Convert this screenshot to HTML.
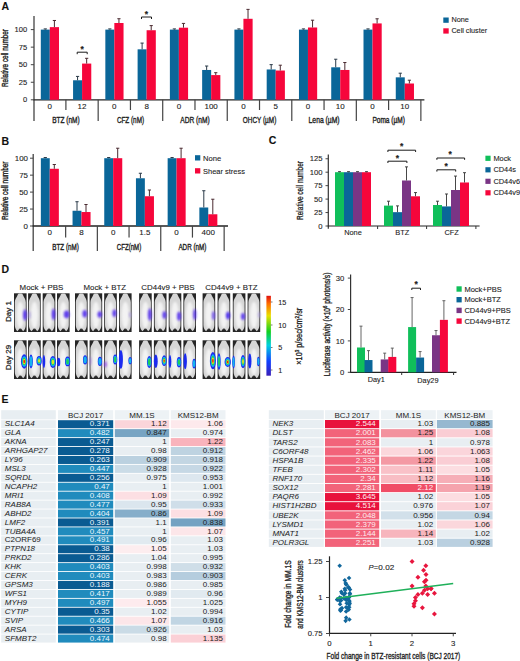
<!DOCTYPE html><html><head><meta charset="utf-8"><style>html,body{margin:0;padding:0;background:#fff;width:520px;height:661px;overflow:hidden}svg{display:block}text{font-family:"Liberation Sans",sans-serif}</style></head><body>
<svg width="520" height="661" viewBox="0 0 520 661">
<defs><filter id="bl" x="-30%" y="-30%" width="160%" height="160%"><feGaussianBlur stdDeviation="0.9"/></filter><filter id="bm" x="-30%" y="-10%" width="160%" height="120%"><feGaussianBlur stdDeviation="0.45"/></filter><filter id="bl3" x="-100%" y="-60%" width="300%" height="220%"><feGaussianBlur stdDeviation="0.9"/></filter><filter id="bl2" x="-80%" y="-50%" width="260%" height="200%"><feGaussianBlur stdDeviation="0.75"/></filter><linearGradient id="cbar" x1="0" y1="1" x2="0" y2="0"><stop offset="0" stop-color="#3a1fb8"/><stop offset="0.18" stop-color="#1040ff"/><stop offset="0.38" stop-color="#00d0e0"/><stop offset="0.55" stop-color="#10d020"/><stop offset="0.75" stop-color="#e8e000"/><stop offset="0.9" stop-color="#ff7000"/><stop offset="1" stop-color="#e01010"/></linearGradient></defs>
<rect x="0" y="0" width="520" height="661" fill="#fff"/>
<text x="1.5" y="10.25" font-size="10.5" font-weight="bold" fill="#111" stroke="#111" stroke-width="0.1">A</text>
<text x="1.5" y="144.65" font-size="10.5" font-weight="bold" fill="#111" stroke="#111" stroke-width="0.1">B</text>
<text x="268.8" y="143.95" font-size="10.5" font-weight="bold" fill="#111" stroke="#111" stroke-width="0.1">C</text>
<text x="1.5" y="272.65" font-size="10.5" font-weight="bold" fill="#111" stroke="#111" stroke-width="0.1">D</text>
<text x="1.5" y="402.65" font-size="10.5" font-weight="bold" fill="#111" stroke="#111" stroke-width="0.1">E</text>
<line x1="34" y1="16" x2="34" y2="121" stroke="#444" stroke-width="1.3"/>
<line x1="33.4" y1="99.8" x2="424.4" y2="99.8" stroke="#222" stroke-width="1.3"/>
<line x1="30.8" y1="99.8" x2="34" y2="99.8" stroke="#444" stroke-width="1"/>
<text x="27.2" y="102.35" font-size="6.9" text-anchor="end" textLength="4.2" lengthAdjust="spacingAndGlyphs" fill="#222" stroke="#222" stroke-width="0.1">0</text>
<line x1="30.8" y1="82.25" x2="34" y2="82.25" stroke="#444" stroke-width="1"/>
<text x="27.2" y="84.8" font-size="6.9" text-anchor="end" textLength="8.4" lengthAdjust="spacingAndGlyphs" fill="#222" stroke="#222" stroke-width="0.1">25</text>
<line x1="30.8" y1="64.7" x2="34" y2="64.7" stroke="#444" stroke-width="1"/>
<text x="27.2" y="67.25" font-size="6.9" text-anchor="end" textLength="8.4" lengthAdjust="spacingAndGlyphs" fill="#222" stroke="#222" stroke-width="0.1">50</text>
<line x1="30.8" y1="47.15" x2="34" y2="47.15" stroke="#444" stroke-width="1"/>
<text x="27.2" y="49.7" font-size="6.9" text-anchor="end" textLength="8.4" lengthAdjust="spacingAndGlyphs" fill="#222" stroke="#222" stroke-width="0.1">75</text>
<line x1="30.8" y1="29.6" x2="34" y2="29.6" stroke="#444" stroke-width="1"/>
<text x="27.2" y="32.15" font-size="6.9" text-anchor="end" textLength="12.6" lengthAdjust="spacingAndGlyphs" fill="#222" stroke="#222" stroke-width="0.1">100</text>
<g transform="translate(4.9 58) rotate(-90)">
<text x="0" y="3.19" font-size="9" text-anchor="middle" textLength="58" lengthAdjust="spacingAndGlyphs" fill="#222" stroke="#222" stroke-width="0.38">Relative cell number</text>
</g>
<rect x="40.8" y="29.6" width="9" height="70.2" fill="#0a6699"/>
<rect x="49.8" y="27.14" width="9.2" height="72.66" fill="#f6063b"/>
<line x1="45.3" y1="29.6" x2="45.3" y2="28.9" stroke="#2a3a48" stroke-width="1"/>
<line x1="43.7" y1="28.9" x2="46.9" y2="28.9" stroke="#2a3a48" stroke-width="1"/>
<line x1="54.4" y1="27.14" x2="54.4" y2="20.47" stroke="#4a2a30" stroke-width="1"/>
<line x1="52.8" y1="20.47" x2="56" y2="20.47" stroke="#4a2a30" stroke-width="1"/>
<rect x="73.07" y="80.28" width="9" height="19.52" fill="#0a6699"/>
<rect x="82.07" y="63.58" width="9.2" height="36.22" fill="#f6063b"/>
<line x1="77.57" y1="80.28" x2="77.57" y2="76.42" stroke="#2a3a48" stroke-width="1"/>
<line x1="75.97" y1="76.42" x2="79.17" y2="76.42" stroke="#2a3a48" stroke-width="1"/>
<line x1="86.67" y1="63.58" x2="86.67" y2="58.31" stroke="#4a2a30" stroke-width="1"/>
<line x1="85.07" y1="58.31" x2="88.27" y2="58.31" stroke="#4a2a30" stroke-width="1"/>
<rect x="105.34" y="29.6" width="9" height="70.2" fill="#0a6699"/>
<rect x="114.34" y="23" width="9.2" height="76.8" fill="#f6063b"/>
<line x1="109.84" y1="29.6" x2="109.84" y2="28.9" stroke="#2a3a48" stroke-width="1"/>
<line x1="108.24" y1="28.9" x2="111.44" y2="28.9" stroke="#2a3a48" stroke-width="1"/>
<line x1="118.94" y1="23" x2="118.94" y2="18.72" stroke="#4a2a30" stroke-width="1"/>
<line x1="117.34" y1="18.72" x2="120.54" y2="18.72" stroke="#4a2a30" stroke-width="1"/>
<rect x="137.61" y="49.33" width="9" height="50.47" fill="#0a6699"/>
<rect x="146.61" y="30.23" width="9.2" height="69.57" fill="#f6063b"/>
<line x1="142.11" y1="49.33" x2="142.11" y2="43.08" stroke="#2a3a48" stroke-width="1"/>
<line x1="140.51" y1="43.08" x2="143.71" y2="43.08" stroke="#2a3a48" stroke-width="1"/>
<line x1="151.21" y1="30.23" x2="151.21" y2="25.6" stroke="#4a2a30" stroke-width="1"/>
<line x1="149.61" y1="25.6" x2="152.81" y2="25.6" stroke="#4a2a30" stroke-width="1"/>
<rect x="169.88" y="29.6" width="9" height="70.2" fill="#0a6699"/>
<rect x="178.88" y="27.7" width="9.2" height="72.1" fill="#f6063b"/>
<line x1="174.38" y1="29.6" x2="174.38" y2="28.9" stroke="#2a3a48" stroke-width="1"/>
<line x1="172.78" y1="28.9" x2="175.98" y2="28.9" stroke="#2a3a48" stroke-width="1"/>
<line x1="183.48" y1="27.7" x2="183.48" y2="23.42" stroke="#4a2a30" stroke-width="1"/>
<line x1="181.88" y1="23.42" x2="185.08" y2="23.42" stroke="#4a2a30" stroke-width="1"/>
<rect x="202.15" y="69.97" width="9" height="29.83" fill="#0a6699"/>
<rect x="211.15" y="75.09" width="9.2" height="24.71" fill="#f6063b"/>
<line x1="206.65" y1="69.97" x2="206.65" y2="66.03" stroke="#2a3a48" stroke-width="1"/>
<line x1="205.05" y1="66.03" x2="208.25" y2="66.03" stroke="#2a3a48" stroke-width="1"/>
<line x1="215.75" y1="75.09" x2="215.75" y2="72.7" stroke="#4a2a30" stroke-width="1"/>
<line x1="214.15" y1="72.7" x2="217.35" y2="72.7" stroke="#4a2a30" stroke-width="1"/>
<rect x="234.42" y="29.6" width="9" height="70.2" fill="#0a6699"/>
<rect x="243.42" y="18.79" width="9.2" height="81.01" fill="#f6063b"/>
<line x1="238.92" y1="29.6" x2="238.92" y2="28.9" stroke="#2a3a48" stroke-width="1"/>
<line x1="237.32" y1="28.9" x2="240.52" y2="28.9" stroke="#2a3a48" stroke-width="1"/>
<line x1="248.02" y1="18.79" x2="248.02" y2="9.38" stroke="#4a2a30" stroke-width="1"/>
<line x1="246.42" y1="9.38" x2="249.62" y2="9.38" stroke="#4a2a30" stroke-width="1"/>
<rect x="266.69" y="69.47" width="9" height="30.33" fill="#0a6699"/>
<rect x="275.69" y="70.53" width="9.2" height="29.27" fill="#f6063b"/>
<line x1="271.19" y1="69.47" x2="271.19" y2="64.63" stroke="#2a3a48" stroke-width="1"/>
<line x1="269.59" y1="64.63" x2="272.79" y2="64.63" stroke="#2a3a48" stroke-width="1"/>
<line x1="280.29" y1="70.53" x2="280.29" y2="65.19" stroke="#4a2a30" stroke-width="1"/>
<line x1="278.69" y1="65.19" x2="281.89" y2="65.19" stroke="#4a2a30" stroke-width="1"/>
<rect x="298.96" y="29.6" width="9" height="70.2" fill="#0a6699"/>
<rect x="307.96" y="27.49" width="9.2" height="72.31" fill="#f6063b"/>
<line x1="303.46" y1="29.6" x2="303.46" y2="28.9" stroke="#2a3a48" stroke-width="1"/>
<line x1="301.86" y1="28.9" x2="305.06" y2="28.9" stroke="#2a3a48" stroke-width="1"/>
<line x1="312.56" y1="27.49" x2="312.56" y2="20.19" stroke="#4a2a30" stroke-width="1"/>
<line x1="310.96" y1="20.19" x2="314.16" y2="20.19" stroke="#4a2a30" stroke-width="1"/>
<rect x="331.23" y="67.3" width="9" height="32.5" fill="#0a6699"/>
<rect x="340.23" y="69.97" width="9.2" height="29.83" fill="#f6063b"/>
<line x1="335.73" y1="67.3" x2="335.73" y2="59.22" stroke="#2a3a48" stroke-width="1"/>
<line x1="334.13" y1="59.22" x2="337.33" y2="59.22" stroke="#2a3a48" stroke-width="1"/>
<line x1="344.83" y1="69.97" x2="344.83" y2="62.52" stroke="#4a2a30" stroke-width="1"/>
<line x1="343.23" y1="62.52" x2="346.43" y2="62.52" stroke="#4a2a30" stroke-width="1"/>
<rect x="363.5" y="29.6" width="9" height="70.2" fill="#0a6699"/>
<rect x="372.5" y="23.42" width="9.2" height="76.38" fill="#f6063b"/>
<line x1="368" y1="29.6" x2="368" y2="28.9" stroke="#2a3a48" stroke-width="1"/>
<line x1="366.4" y1="28.9" x2="369.6" y2="28.9" stroke="#2a3a48" stroke-width="1"/>
<line x1="377.1" y1="23.42" x2="377.1" y2="18.79" stroke="#4a2a30" stroke-width="1"/>
<line x1="375.5" y1="18.79" x2="378.7" y2="18.79" stroke="#4a2a30" stroke-width="1"/>
<rect x="395.77" y="77.34" width="9" height="22.46" fill="#0a6699"/>
<rect x="404.77" y="83.51" width="9.2" height="16.29" fill="#f6063b"/>
<line x1="400.27" y1="77.34" x2="400.27" y2="73.19" stroke="#2a3a48" stroke-width="1"/>
<line x1="398.67" y1="73.19" x2="401.87" y2="73.19" stroke="#2a3a48" stroke-width="1"/>
<line x1="409.37" y1="83.51" x2="409.37" y2="80.21" stroke="#4a2a30" stroke-width="1"/>
<line x1="407.77" y1="80.21" x2="410.97" y2="80.21" stroke="#4a2a30" stroke-width="1"/>
<line x1="65.9" y1="99.8" x2="65.9" y2="110" stroke="#444" stroke-width="1.2"/>
<line x1="98.17" y1="99.8" x2="98.17" y2="121" stroke="#444" stroke-width="1.2"/>
<line x1="130.44" y1="99.8" x2="130.44" y2="110" stroke="#444" stroke-width="1.2"/>
<line x1="162.71" y1="99.8" x2="162.71" y2="121" stroke="#444" stroke-width="1.2"/>
<line x1="194.98" y1="99.8" x2="194.98" y2="110" stroke="#444" stroke-width="1.2"/>
<line x1="227.25" y1="99.8" x2="227.25" y2="121" stroke="#444" stroke-width="1.2"/>
<line x1="259.52" y1="99.8" x2="259.52" y2="110" stroke="#444" stroke-width="1.2"/>
<line x1="291.79" y1="99.8" x2="291.79" y2="121" stroke="#444" stroke-width="1.2"/>
<line x1="324.06" y1="99.8" x2="324.06" y2="110" stroke="#444" stroke-width="1.2"/>
<line x1="356.33" y1="99.8" x2="356.33" y2="121" stroke="#444" stroke-width="1.2"/>
<line x1="388.6" y1="99.8" x2="388.6" y2="110" stroke="#444" stroke-width="1.2"/>
<line x1="420.87" y1="99.8" x2="420.87" y2="121" stroke="#444" stroke-width="1.2"/>
<text x="49.8" y="108.94" font-size="8" text-anchor="middle" fill="#222" stroke="#222" stroke-width="0.1">0</text>
<text x="82.07" y="108.94" font-size="8" text-anchor="middle" fill="#222" stroke="#222" stroke-width="0.1">12</text>
<text x="114.34" y="108.94" font-size="8" text-anchor="middle" fill="#222" stroke="#222" stroke-width="0.1">0</text>
<text x="146.61" y="108.94" font-size="8" text-anchor="middle" fill="#222" stroke="#222" stroke-width="0.1">8</text>
<text x="178.88" y="108.94" font-size="8" text-anchor="middle" fill="#222" stroke="#222" stroke-width="0.1">0</text>
<text x="211.15" y="108.94" font-size="8" text-anchor="middle" fill="#222" stroke="#222" stroke-width="0.1">100</text>
<text x="243.42" y="108.94" font-size="8" text-anchor="middle" fill="#222" stroke="#222" stroke-width="0.1">0</text>
<text x="275.69" y="108.94" font-size="8" text-anchor="middle" fill="#222" stroke="#222" stroke-width="0.1">5</text>
<text x="307.96" y="108.94" font-size="8" text-anchor="middle" fill="#222" stroke="#222" stroke-width="0.1">0</text>
<text x="340.23" y="108.94" font-size="8" text-anchor="middle" fill="#222" stroke="#222" stroke-width="0.1">10</text>
<text x="372.5" y="108.94" font-size="8" text-anchor="middle" fill="#222" stroke="#222" stroke-width="0.1">0</text>
<text x="404.77" y="108.94" font-size="8" text-anchor="middle" fill="#222" stroke="#222" stroke-width="0.1">10</text>
<text x="65.94" y="123.45" font-size="8.6" text-anchor="middle" textLength="27.6" lengthAdjust="spacingAndGlyphs" fill="#222" stroke="#222" stroke-width="0.35">BTZ (nM)</text>
<text x="130.48" y="123.45" font-size="8.6" text-anchor="middle" textLength="27.2" lengthAdjust="spacingAndGlyphs" fill="#222" stroke="#222" stroke-width="0.35">CFZ (nM)</text>
<text x="195.02" y="123.45" font-size="8.6" text-anchor="middle" textLength="29.5" lengthAdjust="spacingAndGlyphs" fill="#222" stroke="#222" stroke-width="0.35">ADR (nM)</text>
<text x="259.56" y="123.45" font-size="8.6" text-anchor="middle" textLength="33.5" lengthAdjust="spacingAndGlyphs" fill="#222" stroke="#222" stroke-width="0.35">OHCY (µM)</text>
<text x="324.1" y="123.45" font-size="8.6" text-anchor="middle" textLength="31" lengthAdjust="spacingAndGlyphs" fill="#222" stroke="#222" stroke-width="0.35">Lena (µM)</text>
<text x="388.64" y="123.45" font-size="8.6" text-anchor="middle" textLength="32.5" lengthAdjust="spacingAndGlyphs" fill="#222" stroke="#222" stroke-width="0.35">Poma (µM)</text>
<path d="M77.2 54.2 V52.2 H87.2 V54.2" fill="none" stroke="#1a1a1a" stroke-width="1"/>
<text x="82.2" y="51.88" font-size="8.5" text-anchor="middle" font-weight="bold" fill="#222" stroke="#222" stroke-width="0.2">*</text>
<path d="M141.5 19 V17 H151.5 V19" fill="none" stroke="#1a1a1a" stroke-width="1"/>
<text x="146.5" y="16.68" font-size="8.5" text-anchor="middle" font-weight="bold" fill="#222" stroke="#222" stroke-width="0.2">*</text>
<rect x="443.3" y="17.5" width="5.4" height="5.3" fill="#0a6699"/>
<rect x="443.3" y="28.3" width="5.4" height="5.3" fill="#f6063b"/>
<text x="451.4" y="22.49" font-size="7.3" fill="#222" stroke="#222" stroke-width="0.1">None</text>
<text x="451.4" y="33.29" font-size="7.3" textLength="35.8" lengthAdjust="spacingAndGlyphs" fill="#222" stroke="#222" stroke-width="0.1">Cell cluster</text>
<line x1="33.2" y1="154" x2="33.2" y2="251" stroke="#444" stroke-width="1.3"/>
<line x1="32.6" y1="226" x2="228" y2="226" stroke="#222" stroke-width="1.3"/>
<line x1="30" y1="226" x2="33.2" y2="226" stroke="#444" stroke-width="1"/>
<text x="28" y="228.66" font-size="7.2" text-anchor="end" textLength="4.4" lengthAdjust="spacingAndGlyphs" fill="#222" stroke="#222" stroke-width="0.1">0</text>
<line x1="30" y1="209.05" x2="33.2" y2="209.05" stroke="#444" stroke-width="1"/>
<text x="28" y="211.71" font-size="7.2" text-anchor="end" textLength="8.8" lengthAdjust="spacingAndGlyphs" fill="#222" stroke="#222" stroke-width="0.1">25</text>
<line x1="30" y1="192.1" x2="33.2" y2="192.1" stroke="#444" stroke-width="1"/>
<text x="28" y="194.76" font-size="7.2" text-anchor="end" textLength="8.8" lengthAdjust="spacingAndGlyphs" fill="#222" stroke="#222" stroke-width="0.1">50</text>
<line x1="30" y1="175.15" x2="33.2" y2="175.15" stroke="#444" stroke-width="1"/>
<text x="28" y="177.81" font-size="7.2" text-anchor="end" textLength="8.8" lengthAdjust="spacingAndGlyphs" fill="#222" stroke="#222" stroke-width="0.1">75</text>
<line x1="30" y1="158.2" x2="33.2" y2="158.2" stroke="#444" stroke-width="1"/>
<text x="28" y="160.86" font-size="7.2" text-anchor="end" textLength="13.2" lengthAdjust="spacingAndGlyphs" fill="#222" stroke="#222" stroke-width="0.1">100</text>
<g transform="translate(4.7 190.8) rotate(-90)">
<text x="0" y="3.12" font-size="8.8" text-anchor="middle" textLength="58.6" lengthAdjust="spacingAndGlyphs" fill="#222" stroke="#222" stroke-width="0.38">Relative cell number</text>
</g>
<rect x="40.85" y="158.2" width="8.9" height="67.8" fill="#0a6699"/>
<rect x="49.75" y="168.78" width="9.1" height="57.22" fill="#f6063b"/>
<line x1="45.3" y1="158.2" x2="45.3" y2="157.52" stroke="#2a3a48" stroke-width="1"/>
<line x1="43.7" y1="157.52" x2="46.9" y2="157.52" stroke="#2a3a48" stroke-width="1"/>
<line x1="54.3" y1="168.78" x2="54.3" y2="164.51" stroke="#4a2a30" stroke-width="1"/>
<line x1="52.7" y1="164.51" x2="55.9" y2="164.51" stroke="#4a2a30" stroke-width="1"/>
<rect x="72.55" y="210.75" width="8.9" height="15.25" fill="#0a6699"/>
<rect x="81.45" y="212.03" width="9.1" height="13.97" fill="#f6063b"/>
<line x1="77" y1="210.75" x2="77" y2="201.73" stroke="#2a3a48" stroke-width="1"/>
<line x1="75.4" y1="201.73" x2="78.6" y2="201.73" stroke="#2a3a48" stroke-width="1"/>
<line x1="86" y1="212.03" x2="86" y2="204.51" stroke="#4a2a30" stroke-width="1"/>
<line x1="84.4" y1="204.51" x2="87.6" y2="204.51" stroke="#4a2a30" stroke-width="1"/>
<rect x="104.25" y="158.2" width="8.9" height="67.8" fill="#0a6699"/>
<rect x="113.15" y="158.2" width="9.1" height="67.8" fill="#f6063b"/>
<line x1="108.7" y1="158.2" x2="108.7" y2="157.52" stroke="#2a3a48" stroke-width="1"/>
<line x1="107.1" y1="157.52" x2="110.3" y2="157.52" stroke="#2a3a48" stroke-width="1"/>
<line x1="117.7" y1="158.2" x2="117.7" y2="148.23" stroke="#4a2a30" stroke-width="1"/>
<line x1="116.1" y1="148.23" x2="119.3" y2="148.23" stroke="#4a2a30" stroke-width="1"/>
<rect x="135.95" y="178.27" width="8.9" height="47.73" fill="#0a6699"/>
<rect x="144.85" y="196.24" width="9.1" height="29.76" fill="#f6063b"/>
<line x1="140.4" y1="178.27" x2="140.4" y2="173.25" stroke="#2a3a48" stroke-width="1"/>
<line x1="138.8" y1="173.25" x2="142" y2="173.25" stroke="#2a3a48" stroke-width="1"/>
<line x1="149.4" y1="196.24" x2="149.4" y2="190" stroke="#4a2a30" stroke-width="1"/>
<line x1="147.8" y1="190" x2="151" y2="190" stroke="#4a2a30" stroke-width="1"/>
<rect x="167.65" y="158.2" width="8.9" height="67.8" fill="#0a6699"/>
<rect x="176.55" y="158.2" width="9.1" height="67.8" fill="#f6063b"/>
<line x1="172.1" y1="158.2" x2="172.1" y2="157.52" stroke="#2a3a48" stroke-width="1"/>
<line x1="170.5" y1="157.52" x2="173.7" y2="157.52" stroke="#2a3a48" stroke-width="1"/>
<line x1="181.1" y1="158.2" x2="181.1" y2="148.23" stroke="#4a2a30" stroke-width="1"/>
<line x1="179.5" y1="148.23" x2="182.7" y2="148.23" stroke="#4a2a30" stroke-width="1"/>
<rect x="199.35" y="207.49" width="8.9" height="18.51" fill="#0a6699"/>
<rect x="208.25" y="214.27" width="9.1" height="11.73" fill="#f6063b"/>
<line x1="203.8" y1="207.49" x2="203.8" y2="190.74" stroke="#2a3a48" stroke-width="1"/>
<line x1="202.2" y1="190.74" x2="205.4" y2="190.74" stroke="#2a3a48" stroke-width="1"/>
<line x1="212.8" y1="214.27" x2="212.8" y2="199.22" stroke="#4a2a30" stroke-width="1"/>
<line x1="211.2" y1="199.22" x2="214.4" y2="199.22" stroke="#4a2a30" stroke-width="1"/>
<line x1="65.65" y1="226" x2="65.65" y2="237.6" stroke="#444" stroke-width="1.2"/>
<line x1="97.35" y1="226" x2="97.35" y2="251" stroke="#444" stroke-width="1.2"/>
<line x1="129.05" y1="226" x2="129.05" y2="237.6" stroke="#444" stroke-width="1.2"/>
<line x1="160.75" y1="226" x2="160.75" y2="251" stroke="#444" stroke-width="1.2"/>
<line x1="192.45" y1="226" x2="192.45" y2="237.6" stroke="#444" stroke-width="1.2"/>
<line x1="224.15" y1="226" x2="224.15" y2="251" stroke="#444" stroke-width="1.2"/>
<text x="49.75" y="235.44" font-size="8" text-anchor="middle" fill="#222" stroke="#222" stroke-width="0.1">0</text>
<text x="81.45" y="235.44" font-size="8" text-anchor="middle" fill="#222" stroke="#222" stroke-width="0.1">8</text>
<text x="113.15" y="235.44" font-size="8" text-anchor="middle" fill="#222" stroke="#222" stroke-width="0.1">0</text>
<text x="144.85" y="235.44" font-size="8" text-anchor="middle" fill="#222" stroke="#222" stroke-width="0.1">1.5</text>
<text x="176.55" y="235.44" font-size="8" text-anchor="middle" fill="#222" stroke="#222" stroke-width="0.1">0</text>
<text x="208.25" y="235.44" font-size="8" text-anchor="middle" fill="#222" stroke="#222" stroke-width="0.1">400</text>
<text x="65.6" y="249.95" font-size="8.3" text-anchor="middle" textLength="26.5" lengthAdjust="spacingAndGlyphs" fill="#222" stroke="#222" stroke-width="0.35">BTZ (nM)</text>
<text x="129" y="249.95" font-size="8.3" text-anchor="middle" textLength="24.5" lengthAdjust="spacingAndGlyphs" fill="#222" stroke="#222" stroke-width="0.35">CFZ(nM)</text>
<text x="192.4" y="249.95" font-size="8.3" text-anchor="middle" textLength="28" lengthAdjust="spacingAndGlyphs" fill="#222" stroke="#222" stroke-width="0.35">ADR (nM)</text>
<rect x="195" y="155.2" width="5.3" height="5.3" fill="#0a6699"/>
<rect x="195" y="168.2" width="5.3" height="5.3" fill="#f6063b"/>
<text x="203" y="160.7" font-size="7.6" fill="#222" stroke="#222" stroke-width="0.1">None</text>
<text x="203" y="173.5" font-size="7.6" textLength="42" lengthAdjust="spacingAndGlyphs" fill="#222" stroke="#222" stroke-width="0.1">Shear stress</text>
<line x1="328.3" y1="154.5" x2="328.3" y2="228.8" stroke="#333" stroke-width="1.2"/>
<line x1="327.8" y1="226" x2="479.6" y2="226" stroke="#222" stroke-width="1.2"/>
<line x1="325.5" y1="226" x2="328.3" y2="226" stroke="#333" stroke-width="0.9"/>
<text x="322.6" y="228.73" font-size="7.7" text-anchor="end" fill="#222" stroke="#222" stroke-width="0.1">0</text>
<line x1="325.5" y1="212.55" x2="328.3" y2="212.55" stroke="#333" stroke-width="0.9"/>
<text x="322.6" y="215.28" font-size="7.7" text-anchor="end" fill="#222" stroke="#222" stroke-width="0.1">25</text>
<line x1="325.5" y1="199.1" x2="328.3" y2="199.1" stroke="#333" stroke-width="0.9"/>
<text x="322.6" y="201.83" font-size="7.7" text-anchor="end" fill="#222" stroke="#222" stroke-width="0.1">50</text>
<line x1="325.5" y1="185.65" x2="328.3" y2="185.65" stroke="#333" stroke-width="0.9"/>
<text x="322.6" y="188.38" font-size="7.7" text-anchor="end" fill="#222" stroke="#222" stroke-width="0.1">75</text>
<line x1="325.5" y1="172.2" x2="328.3" y2="172.2" stroke="#333" stroke-width="0.9"/>
<text x="322.6" y="174.93" font-size="7.7" text-anchor="end" fill="#222" stroke="#222" stroke-width="0.1">100</text>
<line x1="325.5" y1="158.75" x2="328.3" y2="158.75" stroke="#333" stroke-width="0.9"/>
<text x="322.6" y="161.48" font-size="7.7" text-anchor="end" fill="#222" stroke="#222" stroke-width="0.1">125</text>
<line x1="377.6" y1="226" x2="377.6" y2="229" stroke="#333" stroke-width="1"/>
<line x1="426.6" y1="226" x2="426.6" y2="229" stroke="#333" stroke-width="1"/>
<line x1="475.9" y1="226" x2="475.9" y2="229" stroke="#333" stroke-width="1"/>
<g transform="translate(300.3 190.5) rotate(-90)">
<text x="0" y="3.05" font-size="8.6" text-anchor="middle" textLength="59" lengthAdjust="spacingAndGlyphs" fill="#222" stroke="#222" stroke-width="0.3">Relative cell number</text>
</g>
<rect x="335" y="172.2" width="9" height="53.8" fill="#10bf5a"/>
<line x1="339.5" y1="172.2" x2="339.5" y2="171.66" stroke="#333" stroke-width="0.9"/>
<line x1="338" y1="171.66" x2="341" y2="171.66" stroke="#333" stroke-width="0.9"/>
<rect x="344" y="172.2" width="9" height="53.8" fill="#0a6699"/>
<line x1="348.5" y1="172.2" x2="348.5" y2="171.66" stroke="#333" stroke-width="0.9"/>
<line x1="347" y1="171.66" x2="350" y2="171.66" stroke="#333" stroke-width="0.9"/>
<rect x="353" y="172.2" width="9" height="53.8" fill="#7a3585"/>
<line x1="357.5" y1="172.2" x2="357.5" y2="171.66" stroke="#333" stroke-width="0.9"/>
<line x1="356" y1="171.66" x2="359" y2="171.66" stroke="#333" stroke-width="0.9"/>
<rect x="362" y="172.2" width="9" height="53.8" fill="#f6063b"/>
<line x1="366.5" y1="172.2" x2="366.5" y2="171.66" stroke="#333" stroke-width="0.9"/>
<line x1="365" y1="171.66" x2="368" y2="171.66" stroke="#333" stroke-width="0.9"/>
<rect x="384" y="205.61" width="9" height="20.39" fill="#10bf5a"/>
<line x1="388.5" y1="205.61" x2="388.5" y2="201.2" stroke="#333" stroke-width="0.9"/>
<line x1="387" y1="201.2" x2="390" y2="201.2" stroke="#333" stroke-width="0.9"/>
<rect x="393" y="212.17" width="9" height="13.83" fill="#0a6699"/>
<line x1="397.5" y1="212.17" x2="397.5" y2="205.88" stroke="#333" stroke-width="0.9"/>
<line x1="396" y1="205.88" x2="399" y2="205.88" stroke="#333" stroke-width="0.9"/>
<rect x="402" y="180.49" width="9" height="45.51" fill="#7a3585"/>
<line x1="406.5" y1="180.49" x2="406.5" y2="166.87" stroke="#333" stroke-width="0.9"/>
<line x1="405" y1="166.87" x2="408" y2="166.87" stroke="#333" stroke-width="0.9"/>
<rect x="411" y="196.3" width="9" height="29.7" fill="#f6063b"/>
<line x1="415.5" y1="196.3" x2="415.5" y2="192.59" stroke="#333" stroke-width="0.9"/>
<line x1="414" y1="192.59" x2="417" y2="192.59" stroke="#333" stroke-width="0.9"/>
<rect x="433" y="205.02" width="9" height="20.98" fill="#10bf5a"/>
<line x1="437.5" y1="205.02" x2="437.5" y2="201.2" stroke="#333" stroke-width="0.9"/>
<line x1="436" y1="201.2" x2="439" y2="201.2" stroke="#333" stroke-width="0.9"/>
<rect x="442" y="206.42" width="9" height="19.58" fill="#0a6699"/>
<line x1="446.5" y1="206.42" x2="446.5" y2="193.99" stroke="#333" stroke-width="0.9"/>
<line x1="445" y1="193.99" x2="448" y2="193.99" stroke="#333" stroke-width="0.9"/>
<rect x="451" y="190.01" width="9" height="35.99" fill="#7a3585"/>
<line x1="455.5" y1="190.01" x2="455.5" y2="176.07" stroke="#333" stroke-width="0.9"/>
<line x1="454" y1="176.07" x2="457" y2="176.07" stroke="#333" stroke-width="0.9"/>
<rect x="460" y="182.48" width="9" height="43.52" fill="#f6063b"/>
<line x1="464.5" y1="182.48" x2="464.5" y2="172.68" stroke="#333" stroke-width="0.9"/>
<line x1="463" y1="172.68" x2="466" y2="172.68" stroke="#333" stroke-width="0.9"/>
<text x="353" y="235.43" font-size="7.4" text-anchor="middle" fill="#222" stroke="#222" stroke-width="0.1">None</text>
<text x="402.3" y="235.43" font-size="7.4" text-anchor="middle" fill="#222" stroke="#222" stroke-width="0.1">BTZ</text>
<text x="451.6" y="235.43" font-size="7.4" text-anchor="middle" fill="#222" stroke="#222" stroke-width="0.1">CFZ</text>
<path d="M387.9 163 V161.2 H406.9 V163" fill="none" stroke="#1a1a1a" stroke-width="1"/>
<text x="397.3" y="161.28" font-size="8.5" text-anchor="middle" font-weight="bold" fill="#222" stroke="#222" stroke-width="0.2">*</text>
<path d="M387.9 152 V150.2 H415.6 V152" fill="none" stroke="#1a1a1a" stroke-width="1"/>
<text x="401.6" y="148.98" font-size="8.5" text-anchor="middle" font-weight="bold" fill="#222" stroke="#222" stroke-width="0.2">*</text>
<path d="M436.9 171.6 V169.8 H455.7 V171.6" fill="none" stroke="#1a1a1a" stroke-width="1"/>
<text x="446.2" y="169.48" font-size="8.5" text-anchor="middle" font-weight="bold" fill="#222" stroke="#222" stroke-width="0.2">*</text>
<path d="M436.9 159.8 V158 H464.6 V159.8" fill="none" stroke="#1a1a1a" stroke-width="1"/>
<text x="450.2" y="157.48" font-size="8.5" text-anchor="middle" font-weight="bold" fill="#222" stroke="#222" stroke-width="0.2">*</text>
<rect x="485.4" y="155.7" width="5.2" height="5.2" fill="#10bf5a"/>
<text x="493.4" y="160.93" font-size="7.4" fill="#222" stroke="#222" stroke-width="0.1">Mock</text>
<rect x="485.4" y="167.2" width="5.2" height="5.2" fill="#0a6699"/>
<text x="493.4" y="172.43" font-size="7.4" fill="#222" stroke="#222" stroke-width="0.1">CD44s</text>
<rect x="485.4" y="178.7" width="5.2" height="5.2" fill="#7a3585"/>
<text x="493.4" y="183.93" font-size="7.4" fill="#222" stroke="#222" stroke-width="0.1">CD44v6</text>
<rect x="485.4" y="190.2" width="5.2" height="5.2" fill="#f6063b"/>
<text x="493.4" y="195.43" font-size="7.4" fill="#222" stroke="#222" stroke-width="0.1">CD44v9</text>
<text x="41.5" y="290.1" font-size="7.9" text-anchor="middle" textLength="43.8" lengthAdjust="spacingAndGlyphs" fill="#222" stroke="#222" stroke-width="0.1">Mock + PBS</text>
<text x="104.8" y="290.1" font-size="7.9" text-anchor="middle" textLength="42.5" lengthAdjust="spacingAndGlyphs" fill="#222" stroke="#222" stroke-width="0.1">Mock + BTZ</text>
<text x="168" y="290.1" font-size="7.9" text-anchor="middle" textLength="53.3" lengthAdjust="spacingAndGlyphs" fill="#222" stroke="#222" stroke-width="0.1">CD44v9 + PBS</text>
<text x="231.4" y="290.1" font-size="7.9" text-anchor="middle" textLength="52.3" lengthAdjust="spacingAndGlyphs" fill="#222" stroke="#222" stroke-width="0.1">CD44v9 + BTZ</text>
<g transform="translate(8 311.5) rotate(-90)">
<text x="0" y="2.84" font-size="8" text-anchor="middle" fill="#222" stroke="#222" stroke-width="0.25">Day 1</text>
</g>
<g transform="translate(8 357.5) rotate(-90)">
<text x="0" y="2.84" font-size="8" text-anchor="middle" fill="#222" stroke="#222" stroke-width="0.25">Day 29</text>
</g>
<rect x="14" y="293.3" width="12.6" height="38.7" fill="#262626"/>
<path d="M20.3 293.6 C21.81 293.6 22.57 293.9 23.07 295.3 C24.08 297.8 25.8 299.3 25.8 302.3 L25.8 325 C25.8 328 24.58 330 23.07 331.2 L21.06 328.4 L19.54 328.4 L17.53 331.2 C16.02 330 14.8 328 14.8 325 L14.8 302.3 C14.8 299.3 16.52 297.8 17.53 295.3 C18.03 293.9 18.79 293.6 20.3 293.6 Z" fill="#d6d6d6" filter="url(#bm)"/>
<ellipse cx="20.3" cy="314.97" rx="3.78" ry="13.16" fill="#f3f3f3" filter="url(#bl)"/>
<rect x="28.1" y="293.3" width="12.6" height="38.7" fill="#262626"/>
<path d="M34.4 293.6 C35.91 293.6 36.67 293.9 37.17 295.3 C38.18 297.8 39.9 299.3 39.9 302.3 L39.9 325 C39.9 328 38.68 330 37.17 331.2 L35.16 328.4 L33.64 328.4 L31.63 331.2 C30.12 330 28.9 328 28.9 325 L28.9 302.3 C28.9 299.3 30.62 297.8 31.63 295.3 C32.13 293.9 32.89 293.6 34.4 293.6 Z" fill="#d6d6d6" filter="url(#bm)"/>
<ellipse cx="34.4" cy="314.97" rx="3.78" ry="13.16" fill="#f3f3f3" filter="url(#bl)"/>
<rect x="42.7" y="293.3" width="12.6" height="38.7" fill="#262626"/>
<path d="M49 293.6 C50.51 293.6 51.27 293.9 51.77 295.3 C52.78 297.8 54.5 299.3 54.5 302.3 L54.5 325 C54.5 328 53.28 330 51.77 331.2 L49.76 328.4 L48.24 328.4 L46.23 331.2 C44.72 330 43.5 328 43.5 325 L43.5 302.3 C43.5 299.3 45.22 297.8 46.23 295.3 C46.73 293.9 47.49 293.6 49 293.6 Z" fill="#d6d6d6" filter="url(#bm)"/>
<ellipse cx="49" cy="314.97" rx="3.78" ry="13.16" fill="#f3f3f3" filter="url(#bl)"/>
<rect x="57" y="293.3" width="12.6" height="38.7" fill="#262626"/>
<path d="M63.3 293.6 C64.81 293.6 65.57 293.9 66.07 295.3 C67.08 297.8 68.8 299.3 68.8 302.3 L68.8 325 C68.8 328 67.58 330 66.07 331.2 L64.06 328.4 L62.54 328.4 L60.53 331.2 C59.02 330 57.8 328 57.8 325 L57.8 302.3 C57.8 299.3 59.52 297.8 60.53 295.3 C61.03 293.9 61.79 293.6 63.3 293.6 Z" fill="#d6d6d6" filter="url(#bm)"/>
<ellipse cx="63.3" cy="314.97" rx="3.78" ry="13.16" fill="#f3f3f3" filter="url(#bl)"/>
<rect x="75" y="293.3" width="12.6" height="38.7" fill="#262626"/>
<path d="M81.3 293.6 C82.81 293.6 83.57 293.9 84.07 295.3 C85.08 297.8 86.8 299.3 86.8 302.3 L86.8 325 C86.8 328 85.58 330 84.07 331.2 L82.06 328.4 L80.54 328.4 L78.53 331.2 C77.02 330 75.8 328 75.8 325 L75.8 302.3 C75.8 299.3 77.52 297.8 78.53 295.3 C79.03 293.9 79.79 293.6 81.3 293.6 Z" fill="#d6d6d6" filter="url(#bm)"/>
<ellipse cx="81.3" cy="314.97" rx="3.78" ry="13.16" fill="#f3f3f3" filter="url(#bl)"/>
<rect x="89.6" y="293.3" width="12.6" height="38.7" fill="#262626"/>
<path d="M95.9 293.6 C97.41 293.6 98.17 293.9 98.67 295.3 C99.68 297.8 101.4 299.3 101.4 302.3 L101.4 325 C101.4 328 100.18 330 98.67 331.2 L96.66 328.4 L95.14 328.4 L93.13 331.2 C91.62 330 90.4 328 90.4 325 L90.4 302.3 C90.4 299.3 92.12 297.8 93.13 295.3 C93.63 293.9 94.39 293.6 95.9 293.6 Z" fill="#d6d6d6" filter="url(#bm)"/>
<ellipse cx="95.9" cy="314.97" rx="3.78" ry="13.16" fill="#f3f3f3" filter="url(#bl)"/>
<rect x="104.2" y="293.3" width="12.6" height="38.7" fill="#262626"/>
<path d="M110.5 293.6 C112.01 293.6 112.77 293.9 113.27 295.3 C114.28 297.8 116 299.3 116 302.3 L116 325 C116 328 114.78 330 113.27 331.2 L111.26 328.4 L109.74 328.4 L107.73 331.2 C106.22 330 105 328 105 325 L105 302.3 C105 299.3 106.72 297.8 107.73 295.3 C108.23 293.9 108.99 293.6 110.5 293.6 Z" fill="#d6d6d6" filter="url(#bm)"/>
<ellipse cx="110.5" cy="314.97" rx="3.78" ry="13.16" fill="#f3f3f3" filter="url(#bl)"/>
<rect x="119" y="293.3" width="12.6" height="38.7" fill="#262626"/>
<path d="M125.3 293.6 C126.81 293.6 127.57 293.9 128.07 295.3 C129.08 297.8 130.8 299.3 130.8 302.3 L130.8 325 C130.8 328 129.58 330 128.07 331.2 L126.06 328.4 L124.54 328.4 L122.53 331.2 C121.02 330 119.8 328 119.8 325 L119.8 302.3 C119.8 299.3 121.52 297.8 122.53 295.3 C123.03 293.9 123.79 293.6 125.3 293.6 Z" fill="#d6d6d6" filter="url(#bm)"/>
<ellipse cx="125.3" cy="314.97" rx="3.78" ry="13.16" fill="#f3f3f3" filter="url(#bl)"/>
<rect x="139.1" y="293.3" width="12.6" height="38.7" fill="#262626"/>
<path d="M145.4 293.6 C146.91 293.6 147.67 293.9 148.17 295.3 C149.18 297.8 150.9 299.3 150.9 302.3 L150.9 325 C150.9 328 149.68 330 148.17 331.2 L146.16 328.4 L144.64 328.4 L142.63 331.2 C141.12 330 139.9 328 139.9 325 L139.9 302.3 C139.9 299.3 141.62 297.8 142.63 295.3 C143.13 293.9 143.89 293.6 145.4 293.6 Z" fill="#d6d6d6" filter="url(#bm)"/>
<ellipse cx="145.4" cy="314.97" rx="3.78" ry="13.16" fill="#f3f3f3" filter="url(#bl)"/>
<rect x="153.9" y="293.3" width="12.6" height="38.7" fill="#262626"/>
<path d="M160.2 293.6 C161.71 293.6 162.47 293.9 162.97 295.3 C163.98 297.8 165.7 299.3 165.7 302.3 L165.7 325 C165.7 328 164.48 330 162.97 331.2 L160.96 328.4 L159.44 328.4 L157.43 331.2 C155.92 330 154.7 328 154.7 325 L154.7 302.3 C154.7 299.3 156.42 297.8 157.43 295.3 C157.93 293.9 158.69 293.6 160.2 293.6 Z" fill="#d6d6d6" filter="url(#bm)"/>
<ellipse cx="160.2" cy="314.97" rx="3.78" ry="13.16" fill="#f3f3f3" filter="url(#bl)"/>
<rect x="168.7" y="293.3" width="12.6" height="38.7" fill="#262626"/>
<path d="M175 293.6 C176.51 293.6 177.27 293.9 177.77 295.3 C178.78 297.8 180.5 299.3 180.5 302.3 L180.5 325 C180.5 328 179.28 330 177.77 331.2 L175.76 328.4 L174.24 328.4 L172.23 331.2 C170.72 330 169.5 328 169.5 325 L169.5 302.3 C169.5 299.3 171.22 297.8 172.23 295.3 C172.73 293.9 173.49 293.6 175 293.6 Z" fill="#d6d6d6" filter="url(#bm)"/>
<ellipse cx="175" cy="314.97" rx="3.78" ry="13.16" fill="#f3f3f3" filter="url(#bl)"/>
<rect x="183.4" y="293.3" width="12.6" height="38.7" fill="#262626"/>
<path d="M189.7 293.6 C191.21 293.6 191.97 293.9 192.47 295.3 C193.48 297.8 195.2 299.3 195.2 302.3 L195.2 325 C195.2 328 193.98 330 192.47 331.2 L190.46 328.4 L188.94 328.4 L186.93 331.2 C185.42 330 184.2 328 184.2 325 L184.2 302.3 C184.2 299.3 185.92 297.8 186.93 295.3 C187.43 293.9 188.19 293.6 189.7 293.6 Z" fill="#d6d6d6" filter="url(#bm)"/>
<ellipse cx="189.7" cy="314.97" rx="3.78" ry="13.16" fill="#f3f3f3" filter="url(#bl)"/>
<rect x="202.6" y="293.3" width="12.6" height="38.7" fill="#262626"/>
<path d="M208.9 293.6 C210.41 293.6 211.17 293.9 211.67 295.3 C212.68 297.8 214.4 299.3 214.4 302.3 L214.4 325 C214.4 328 213.18 330 211.67 331.2 L209.66 328.4 L208.14 328.4 L206.13 331.2 C204.62 330 203.4 328 203.4 325 L203.4 302.3 C203.4 299.3 205.12 297.8 206.13 295.3 C206.63 293.9 207.39 293.6 208.9 293.6 Z" fill="#d6d6d6" filter="url(#bm)"/>
<ellipse cx="208.9" cy="314.97" rx="3.78" ry="13.16" fill="#f3f3f3" filter="url(#bl)"/>
<rect x="217.6" y="293.3" width="12.6" height="38.7" fill="#262626"/>
<path d="M223.9 293.6 C225.41 293.6 226.17 293.9 226.67 295.3 C227.68 297.8 229.4 299.3 229.4 302.3 L229.4 325 C229.4 328 228.18 330 226.67 331.2 L224.66 328.4 L223.14 328.4 L221.13 331.2 C219.62 330 218.4 328 218.4 325 L218.4 302.3 C218.4 299.3 220.12 297.8 221.13 295.3 C221.63 293.9 222.39 293.6 223.9 293.6 Z" fill="#d6d6d6" filter="url(#bm)"/>
<ellipse cx="223.9" cy="314.97" rx="3.78" ry="13.16" fill="#f3f3f3" filter="url(#bl)"/>
<rect x="232.8" y="293.3" width="12.6" height="38.7" fill="#262626"/>
<path d="M239.1 293.6 C240.61 293.6 241.37 293.9 241.87 295.3 C242.88 297.8 244.6 299.3 244.6 302.3 L244.6 325 C244.6 328 243.38 330 241.87 331.2 L239.86 328.4 L238.34 328.4 L236.33 331.2 C234.82 330 233.6 328 233.6 325 L233.6 302.3 C233.6 299.3 235.32 297.8 236.33 295.3 C236.83 293.9 237.59 293.6 239.1 293.6 Z" fill="#d6d6d6" filter="url(#bm)"/>
<ellipse cx="239.1" cy="314.97" rx="3.78" ry="13.16" fill="#f3f3f3" filter="url(#bl)"/>
<rect x="247.6" y="293.3" width="12.6" height="38.7" fill="#262626"/>
<path d="M253.9 293.6 C255.41 293.6 256.17 293.9 256.67 295.3 C257.68 297.8 259.4 299.3 259.4 302.3 L259.4 325 C259.4 328 258.18 330 256.67 331.2 L254.66 328.4 L253.14 328.4 L251.13 331.2 C249.62 330 248.4 328 248.4 325 L248.4 302.3 C248.4 299.3 250.12 297.8 251.13 295.3 C251.63 293.9 252.39 293.6 253.9 293.6 Z" fill="#d6d6d6" filter="url(#bm)"/>
<ellipse cx="253.9" cy="314.97" rx="3.78" ry="13.16" fill="#f3f3f3" filter="url(#bl)"/>
<rect x="14" y="340.3" width="12.6" height="38.7" fill="#262626"/>
<path d="M20.3 340.6 C21.81 340.6 22.57 340.9 23.07 342.3 C24.08 344.8 25.8 346.3 25.8 349.3 L25.8 372 C25.8 375 24.58 377 23.07 378.2 L21.06 375.4 L19.54 375.4 L17.53 378.2 C16.02 377 14.8 375 14.8 372 L14.8 349.3 C14.8 346.3 16.52 344.8 17.53 342.3 C18.03 340.9 18.79 340.6 20.3 340.6 Z" fill="#d6d6d6" filter="url(#bm)"/>
<ellipse cx="20.3" cy="361.97" rx="3.78" ry="13.16" fill="#f3f3f3" filter="url(#bl)"/>
<rect x="28.1" y="340.3" width="12.6" height="38.7" fill="#262626"/>
<path d="M34.4 340.6 C35.91 340.6 36.67 340.9 37.17 342.3 C38.18 344.8 39.9 346.3 39.9 349.3 L39.9 372 C39.9 375 38.68 377 37.17 378.2 L35.16 375.4 L33.64 375.4 L31.63 378.2 C30.12 377 28.9 375 28.9 372 L28.9 349.3 C28.9 346.3 30.62 344.8 31.63 342.3 C32.13 340.9 32.89 340.6 34.4 340.6 Z" fill="#d6d6d6" filter="url(#bm)"/>
<ellipse cx="34.4" cy="361.97" rx="3.78" ry="13.16" fill="#f3f3f3" filter="url(#bl)"/>
<rect x="42.7" y="340.3" width="12.6" height="38.7" fill="#262626"/>
<path d="M49 340.6 C50.51 340.6 51.27 340.9 51.77 342.3 C52.78 344.8 54.5 346.3 54.5 349.3 L54.5 372 C54.5 375 53.28 377 51.77 378.2 L49.76 375.4 L48.24 375.4 L46.23 378.2 C44.72 377 43.5 375 43.5 372 L43.5 349.3 C43.5 346.3 45.22 344.8 46.23 342.3 C46.73 340.9 47.49 340.6 49 340.6 Z" fill="#d6d6d6" filter="url(#bm)"/>
<ellipse cx="49" cy="361.97" rx="3.78" ry="13.16" fill="#f3f3f3" filter="url(#bl)"/>
<rect x="57" y="340.3" width="12.6" height="38.7" fill="#262626"/>
<path d="M63.3 340.6 C64.81 340.6 65.57 340.9 66.07 342.3 C67.08 344.8 68.8 346.3 68.8 349.3 L68.8 372 C68.8 375 67.58 377 66.07 378.2 L64.06 375.4 L62.54 375.4 L60.53 378.2 C59.02 377 57.8 375 57.8 372 L57.8 349.3 C57.8 346.3 59.52 344.8 60.53 342.3 C61.03 340.9 61.79 340.6 63.3 340.6 Z" fill="#d6d6d6" filter="url(#bm)"/>
<ellipse cx="63.3" cy="361.97" rx="3.78" ry="13.16" fill="#f3f3f3" filter="url(#bl)"/>
<rect x="75" y="340.3" width="12.6" height="38.7" fill="#262626"/>
<path d="M81.3 340.6 C82.81 340.6 83.57 340.9 84.07 342.3 C85.08 344.8 86.8 346.3 86.8 349.3 L86.8 372 C86.8 375 85.58 377 84.07 378.2 L82.06 375.4 L80.54 375.4 L78.53 378.2 C77.02 377 75.8 375 75.8 372 L75.8 349.3 C75.8 346.3 77.52 344.8 78.53 342.3 C79.03 340.9 79.79 340.6 81.3 340.6 Z" fill="#d6d6d6" filter="url(#bm)"/>
<ellipse cx="81.3" cy="361.97" rx="3.78" ry="13.16" fill="#f3f3f3" filter="url(#bl)"/>
<rect x="89.6" y="340.3" width="12.6" height="38.7" fill="#262626"/>
<path d="M95.9 340.6 C97.41 340.6 98.17 340.9 98.67 342.3 C99.68 344.8 101.4 346.3 101.4 349.3 L101.4 372 C101.4 375 100.18 377 98.67 378.2 L96.66 375.4 L95.14 375.4 L93.13 378.2 C91.62 377 90.4 375 90.4 372 L90.4 349.3 C90.4 346.3 92.12 344.8 93.13 342.3 C93.63 340.9 94.39 340.6 95.9 340.6 Z" fill="#d6d6d6" filter="url(#bm)"/>
<ellipse cx="95.9" cy="361.97" rx="3.78" ry="13.16" fill="#f3f3f3" filter="url(#bl)"/>
<rect x="104.2" y="340.3" width="12.6" height="38.7" fill="#262626"/>
<path d="M110.5 340.6 C112.01 340.6 112.77 340.9 113.27 342.3 C114.28 344.8 116 346.3 116 349.3 L116 372 C116 375 114.78 377 113.27 378.2 L111.26 375.4 L109.74 375.4 L107.73 378.2 C106.22 377 105 375 105 372 L105 349.3 C105 346.3 106.72 344.8 107.73 342.3 C108.23 340.9 108.99 340.6 110.5 340.6 Z" fill="#d6d6d6" filter="url(#bm)"/>
<ellipse cx="110.5" cy="361.97" rx="3.78" ry="13.16" fill="#f3f3f3" filter="url(#bl)"/>
<rect x="119" y="340.3" width="12.6" height="38.7" fill="#262626"/>
<path d="M125.3 340.6 C126.81 340.6 127.57 340.9 128.07 342.3 C129.08 344.8 130.8 346.3 130.8 349.3 L130.8 372 C130.8 375 129.58 377 128.07 378.2 L126.06 375.4 L124.54 375.4 L122.53 378.2 C121.02 377 119.8 375 119.8 372 L119.8 349.3 C119.8 346.3 121.52 344.8 122.53 342.3 C123.03 340.9 123.79 340.6 125.3 340.6 Z" fill="#d6d6d6" filter="url(#bm)"/>
<ellipse cx="125.3" cy="361.97" rx="3.78" ry="13.16" fill="#f3f3f3" filter="url(#bl)"/>
<rect x="139.1" y="340.3" width="12.6" height="38.7" fill="#262626"/>
<path d="M145.4 340.6 C146.91 340.6 147.67 340.9 148.17 342.3 C149.18 344.8 150.9 346.3 150.9 349.3 L150.9 372 C150.9 375 149.68 377 148.17 378.2 L146.16 375.4 L144.64 375.4 L142.63 378.2 C141.12 377 139.9 375 139.9 372 L139.9 349.3 C139.9 346.3 141.62 344.8 142.63 342.3 C143.13 340.9 143.89 340.6 145.4 340.6 Z" fill="#d6d6d6" filter="url(#bm)"/>
<ellipse cx="145.4" cy="361.97" rx="3.78" ry="13.16" fill="#f3f3f3" filter="url(#bl)"/>
<rect x="153.9" y="340.3" width="12.6" height="38.7" fill="#262626"/>
<path d="M160.2 340.6 C161.71 340.6 162.47 340.9 162.97 342.3 C163.98 344.8 165.7 346.3 165.7 349.3 L165.7 372 C165.7 375 164.48 377 162.97 378.2 L160.96 375.4 L159.44 375.4 L157.43 378.2 C155.92 377 154.7 375 154.7 372 L154.7 349.3 C154.7 346.3 156.42 344.8 157.43 342.3 C157.93 340.9 158.69 340.6 160.2 340.6 Z" fill="#d6d6d6" filter="url(#bm)"/>
<ellipse cx="160.2" cy="361.97" rx="3.78" ry="13.16" fill="#f3f3f3" filter="url(#bl)"/>
<rect x="168.7" y="340.3" width="12.6" height="38.7" fill="#262626"/>
<path d="M175 340.6 C176.51 340.6 177.27 340.9 177.77 342.3 C178.78 344.8 180.5 346.3 180.5 349.3 L180.5 372 C180.5 375 179.28 377 177.77 378.2 L175.76 375.4 L174.24 375.4 L172.23 378.2 C170.72 377 169.5 375 169.5 372 L169.5 349.3 C169.5 346.3 171.22 344.8 172.23 342.3 C172.73 340.9 173.49 340.6 175 340.6 Z" fill="#d6d6d6" filter="url(#bm)"/>
<ellipse cx="175" cy="361.97" rx="3.78" ry="13.16" fill="#f3f3f3" filter="url(#bl)"/>
<rect x="183.4" y="340.3" width="12.6" height="38.7" fill="#262626"/>
<path d="M189.7 340.6 C191.21 340.6 191.97 340.9 192.47 342.3 C193.48 344.8 195.2 346.3 195.2 349.3 L195.2 372 C195.2 375 193.98 377 192.47 378.2 L190.46 375.4 L188.94 375.4 L186.93 378.2 C185.42 377 184.2 375 184.2 372 L184.2 349.3 C184.2 346.3 185.92 344.8 186.93 342.3 C187.43 340.9 188.19 340.6 189.7 340.6 Z" fill="#d6d6d6" filter="url(#bm)"/>
<ellipse cx="189.7" cy="361.97" rx="3.78" ry="13.16" fill="#f3f3f3" filter="url(#bl)"/>
<rect x="202.6" y="340.3" width="12.6" height="38.7" fill="#262626"/>
<path d="M208.9 340.6 C210.41 340.6 211.17 340.9 211.67 342.3 C212.68 344.8 214.4 346.3 214.4 349.3 L214.4 372 C214.4 375 213.18 377 211.67 378.2 L209.66 375.4 L208.14 375.4 L206.13 378.2 C204.62 377 203.4 375 203.4 372 L203.4 349.3 C203.4 346.3 205.12 344.8 206.13 342.3 C206.63 340.9 207.39 340.6 208.9 340.6 Z" fill="#d6d6d6" filter="url(#bm)"/>
<ellipse cx="208.9" cy="361.97" rx="3.78" ry="13.16" fill="#f3f3f3" filter="url(#bl)"/>
<rect x="217.6" y="340.3" width="12.6" height="38.7" fill="#262626"/>
<path d="M223.9 340.6 C225.41 340.6 226.17 340.9 226.67 342.3 C227.68 344.8 229.4 346.3 229.4 349.3 L229.4 372 C229.4 375 228.18 377 226.67 378.2 L224.66 375.4 L223.14 375.4 L221.13 378.2 C219.62 377 218.4 375 218.4 372 L218.4 349.3 C218.4 346.3 220.12 344.8 221.13 342.3 C221.63 340.9 222.39 340.6 223.9 340.6 Z" fill="#d6d6d6" filter="url(#bm)"/>
<ellipse cx="223.9" cy="361.97" rx="3.78" ry="13.16" fill="#f3f3f3" filter="url(#bl)"/>
<rect x="232.8" y="340.3" width="12.6" height="38.7" fill="#262626"/>
<path d="M239.1 340.6 C240.61 340.6 241.37 340.9 241.87 342.3 C242.88 344.8 244.6 346.3 244.6 349.3 L244.6 372 C244.6 375 243.38 377 241.87 378.2 L239.86 375.4 L238.34 375.4 L236.33 378.2 C234.82 377 233.6 375 233.6 372 L233.6 349.3 C233.6 346.3 235.32 344.8 236.33 342.3 C236.83 340.9 237.59 340.6 239.1 340.6 Z" fill="#d6d6d6" filter="url(#bm)"/>
<ellipse cx="239.1" cy="361.97" rx="3.78" ry="13.16" fill="#f3f3f3" filter="url(#bl)"/>
<rect x="247.6" y="340.3" width="12.6" height="38.7" fill="#262626"/>
<path d="M253.9 340.6 C255.41 340.6 256.17 340.9 256.67 342.3 C257.68 344.8 259.4 346.3 259.4 349.3 L259.4 372 C259.4 375 258.18 377 256.67 378.2 L254.66 375.4 L253.14 375.4 L251.13 378.2 C249.62 377 248.4 375 248.4 372 L248.4 349.3 C248.4 346.3 250.12 344.8 251.13 342.3 C251.63 340.9 252.39 340.6 253.9 340.6 Z" fill="#d6d6d6" filter="url(#bm)"/>
<ellipse cx="253.9" cy="361.97" rx="3.78" ry="13.16" fill="#f3f3f3" filter="url(#bl)"/>
<ellipse cx="24.9" cy="315" rx="1.76" ry="5.67" fill="#3a14f0" opacity="0.85" filter="url(#bl3)"/>
<ellipse cx="29.6" cy="315" rx="0.88" ry="3.68" fill="#a090e0" opacity="0.85" filter="url(#bl3)"/>
<ellipse cx="53.5" cy="314.3" rx="1.76" ry="5.78" fill="#4018ee" opacity="0.85" filter="url(#bl3)"/>
<ellipse cx="66.6" cy="314.4" rx="2.86" ry="3.78" fill="#4a24ec" opacity="0.85" filter="url(#bl3)"/>
<ellipse cx="84.7" cy="313.8" rx="2.31" ry="3.78" fill="#4a20ee" opacity="0.85" filter="url(#bl3)"/>
<ellipse cx="99.7" cy="314.5" rx="2.2" ry="3.15" fill="#4a20ee" opacity="0.85" filter="url(#bl3)"/>
<ellipse cx="114.4" cy="313.3" rx="1.98" ry="3.68" fill="#4a20ee" opacity="0.85" filter="url(#bl3)"/>
<ellipse cx="130" cy="315" rx="0.99" ry="3.15" fill="#a898e0" opacity="0.85" filter="url(#bl3)"/>
<ellipse cx="149.8" cy="314.5" rx="1.87" ry="6.3" fill="#4a22ee" opacity="0.85" filter="url(#bl3)"/>
<ellipse cx="164.4" cy="315" rx="1.98" ry="3.78" fill="#4a22ee" opacity="0.85" filter="url(#bl3)"/>
<ellipse cx="179" cy="316.2" rx="1.98" ry="4.41" fill="#4a22ee" opacity="0.85" filter="url(#bl3)"/>
<ellipse cx="194.7" cy="314.4" rx="1.54" ry="5.67" fill="#4a22ee" opacity="0.85" filter="url(#bl3)"/>
<ellipse cx="213.5" cy="315.6" rx="1.65" ry="4.41" fill="#6a48ea" opacity="0.85" filter="url(#bl3)"/>
<ellipse cx="228" cy="315.6" rx="2.09" ry="3.78" fill="#3a18f0" opacity="0.85" filter="url(#bl3)"/>
<ellipse cx="243" cy="316.5" rx="1.98" ry="3.46" fill="#4a22ee" opacity="0.85" filter="url(#bl3)"/>
<ellipse cx="259.2" cy="315" rx="0.99" ry="3.15" fill="#a898e0" opacity="0.85" filter="url(#bl3)"/>
<ellipse cx="90.3" cy="361" rx="0.88" ry="4.2" fill="#9a70e0" opacity="0.85" filter="url(#bl3)"/>
<ellipse cx="105.4" cy="364.3" rx="1.32" ry="3.15" fill="#8a40e8" opacity="0.85" filter="url(#bl3)"/>
<ellipse cx="24.2" cy="361.5" rx="3.25" ry="7.13" fill="#1a2cf0" filter="url(#bl2)"/>
<ellipse cx="24.2" cy="361.5" rx="2.4" ry="5.27" fill="#12b4f0" filter="url(#bl2)"/>
<ellipse cx="24.2" cy="361.5" rx="1.75" ry="3.85" fill="#1ed05a" filter="url(#bl2)"/>
<ellipse cx="24.2" cy="361.5" rx="1.23" ry="2.71" fill="#e6e020" filter="url(#bl2)"/>
<ellipse cx="24.2" cy="361.5" rx="0.78" ry="1.71" fill="#f01c10" filter="url(#bl2)"/>
<ellipse cx="31" cy="361.4" rx="1.9" ry="7.02" fill="#1a2cf0" filter="url(#bl2)"/>
<ellipse cx="31" cy="361.4" rx="1.41" ry="5.19" fill="#12b4f0" filter="url(#bl2)"/>
<ellipse cx="39.1" cy="360.8" rx="2.69" ry="4.75" fill="#1a2cf0" filter="url(#bl2)"/>
<ellipse cx="39.1" cy="360.8" rx="1.99" ry="3.52" fill="#12b4f0" filter="url(#bl2)"/>
<ellipse cx="39.1" cy="360.8" rx="1.45" ry="2.57" fill="#1ed05a" filter="url(#bl2)"/>
<ellipse cx="39.1" cy="360.8" rx="1.02" ry="1.81" fill="#e6e020" filter="url(#bl2)"/>
<ellipse cx="43.9" cy="361.5" rx="1.34" ry="6.48" fill="#1a2cf0" filter="url(#bl2)"/>
<ellipse cx="52.9" cy="362" rx="3.14" ry="6.05" fill="#1a2cf0" filter="url(#bl2)"/>
<ellipse cx="52.9" cy="362" rx="2.32" ry="4.48" fill="#12b4f0" filter="url(#bl2)"/>
<ellipse cx="52.9" cy="362" rx="1.69" ry="3.27" fill="#1ed05a" filter="url(#bl2)"/>
<ellipse cx="52.9" cy="362" rx="1.19" ry="2.3" fill="#e6e020" filter="url(#bl2)"/>
<ellipse cx="58.7" cy="362" rx="1.57" ry="4.32" fill="#1a2cf0" filter="url(#bl2)"/>
<ellipse cx="67.6" cy="361.4" rx="2.58" ry="4.97" fill="#1a2cf0" filter="url(#bl2)"/>
<ellipse cx="67.6" cy="361.4" rx="1.91" ry="3.68" fill="#12b4f0" filter="url(#bl2)"/>
<ellipse cx="67.6" cy="361.4" rx="1.39" ry="2.68" fill="#1ed05a" filter="url(#bl2)"/>
<ellipse cx="85.1" cy="359.9" rx="2.13" ry="4.54" fill="#1a2cf0" filter="url(#bl2)"/>
<ellipse cx="85.1" cy="359.9" rx="1.57" ry="3.36" fill="#12b4f0" filter="url(#bl2)"/>
<ellipse cx="99.9" cy="361.4" rx="2.13" ry="4.54" fill="#1a2cf0" filter="url(#bl2)"/>
<ellipse cx="99.9" cy="361.4" rx="1.57" ry="3.36" fill="#12b4f0" filter="url(#bl2)"/>
<ellipse cx="115.2" cy="359.5" rx="2.13" ry="4.97" fill="#1a2cf0" filter="url(#bl2)"/>
<ellipse cx="115.2" cy="359.5" rx="1.57" ry="3.68" fill="#12b4f0" filter="url(#bl2)"/>
<ellipse cx="115.2" cy="359.5" rx="1.15" ry="2.68" fill="#1ed05a" filter="url(#bl2)"/>
<ellipse cx="120.9" cy="359.5" rx="2.02" ry="9.4" fill="#1a2cf0" filter="url(#bl2)"/>
<ellipse cx="130.1" cy="360.7" rx="1.68" ry="3.67" fill="#1a2cf0" filter="url(#bl2)"/>
<ellipse cx="130.1" cy="360.7" rx="1.24" ry="2.72" fill="#12b4f0" filter="url(#bl2)"/>
<ellipse cx="149.3" cy="362" rx="2.35" ry="6.05" fill="#1a2cf0" filter="url(#bl2)"/>
<ellipse cx="149.3" cy="362" rx="1.74" ry="4.48" fill="#12b4f0" filter="url(#bl2)"/>
<ellipse cx="149.3" cy="362" rx="1.27" ry="3.27" fill="#1ed05a" filter="url(#bl2)"/>
<ellipse cx="155.8" cy="361.3" rx="1.9" ry="6.8" fill="#1a2cf0" filter="url(#bl2)"/>
<ellipse cx="164.2" cy="360.7" rx="2.58" ry="5.4" fill="#1a2cf0" filter="url(#bl2)"/>
<ellipse cx="164.2" cy="360.7" rx="1.91" ry="4" fill="#12b4f0" filter="url(#bl2)"/>
<ellipse cx="164.2" cy="360.7" rx="1.39" ry="2.92" fill="#1ed05a" filter="url(#bl2)"/>
<ellipse cx="164.2" cy="360.7" rx="0.98" ry="2.05" fill="#e6e020" filter="url(#bl2)"/>
<ellipse cx="164.2" cy="360.7" rx="0.62" ry="1.3" fill="#f01c10" filter="url(#bl2)"/>
<ellipse cx="170" cy="361.5" rx="1.34" ry="6.48" fill="#1a2cf0" filter="url(#bl2)"/>
<ellipse cx="179" cy="362.3" rx="2.24" ry="5.18" fill="#1a2cf0" filter="url(#bl2)"/>
<ellipse cx="179" cy="362.3" rx="1.66" ry="3.84" fill="#12b4f0" filter="url(#bl2)"/>
<ellipse cx="179" cy="362.3" rx="1.21" ry="2.8" fill="#1ed05a" filter="url(#bl2)"/>
<ellipse cx="185.2" cy="361.3" rx="1.68" ry="7.99" fill="#1a2cf0" filter="url(#bl2)"/>
<ellipse cx="194.1" cy="363.7" rx="1.68" ry="4.86" fill="#1a2cf0" filter="url(#bl2)"/>
<ellipse cx="194.1" cy="363.7" rx="1.24" ry="3.6" fill="#12b4f0" filter="url(#bl2)"/>
<ellipse cx="212.9" cy="360.7" rx="3.02" ry="8.64" fill="#1a2cf0" filter="url(#bl2)"/>
<ellipse cx="212.9" cy="360.7" rx="2.24" ry="6.39" fill="#12b4f0" filter="url(#bl2)"/>
<ellipse cx="212.9" cy="360.7" rx="1.63" ry="4.67" fill="#1ed05a" filter="url(#bl2)"/>
<ellipse cx="212.9" cy="360.7" rx="1.15" ry="3.28" fill="#e6e020" filter="url(#bl2)"/>
<ellipse cx="212.9" cy="360.7" rx="0.73" ry="2.07" fill="#f01c10" filter="url(#bl2)"/>
<ellipse cx="219" cy="361.6" rx="1.68" ry="8.32" fill="#1a2cf0" filter="url(#bl2)"/>
<ellipse cx="219" cy="361.6" rx="1.24" ry="6.15" fill="#12b4f0" filter="url(#bl2)"/>
<ellipse cx="219" cy="361.6" rx="0.91" ry="4.49" fill="#1ed05a" filter="url(#bl2)"/>
<ellipse cx="227.7" cy="362" rx="3.14" ry="4.97" fill="#1a2cf0" filter="url(#bl2)"/>
<ellipse cx="227.7" cy="362" rx="2.32" ry="3.68" fill="#12b4f0" filter="url(#bl2)"/>
<ellipse cx="227.7" cy="362" rx="1.69" ry="2.68" fill="#1ed05a" filter="url(#bl2)"/>
<ellipse cx="227.7" cy="362" rx="1.19" ry="1.89" fill="#e6e020" filter="url(#bl2)"/>
<ellipse cx="227.7" cy="362" rx="0.75" ry="1.19" fill="#f01c10" filter="url(#bl2)"/>
<ellipse cx="233.6" cy="362" rx="1.34" ry="6.48" fill="#1a2cf0" filter="url(#bl2)"/>
<ellipse cx="233.6" cy="362" rx="0.99" ry="4.8" fill="#12b4f0" filter="url(#bl2)"/>
<ellipse cx="243" cy="361.6" rx="2.35" ry="6.48" fill="#1a2cf0" filter="url(#bl2)"/>
<ellipse cx="243" cy="361.6" rx="1.74" ry="4.8" fill="#12b4f0" filter="url(#bl2)"/>
<ellipse cx="243" cy="361.6" rx="1.27" ry="3.5" fill="#1ed05a" filter="url(#bl2)"/>
<ellipse cx="243" cy="361.6" rx="0.89" ry="2.46" fill="#e6e020" filter="url(#bl2)"/>
<ellipse cx="249.8" cy="361" rx="1.68" ry="7.56" fill="#1a2cf0" filter="url(#bl2)"/>
<ellipse cx="258.4" cy="361.5" rx="1.34" ry="4.86" fill="#1a2cf0" filter="url(#bl2)"/>
<ellipse cx="258.4" cy="361.5" rx="0.99" ry="3.6" fill="#12b4f0" filter="url(#bl2)"/>
<rect x="266.4" y="295.8" width="4.5" height="79.9" fill="url(#cbar)"/>
<line x1="270.9" y1="302" x2="272.5" y2="302" stroke="#444" stroke-width="0.7"/>
<text x="278.3" y="304.56" font-size="7.2" fill="#222" stroke="#222" stroke-width="0.1">15</text>
<line x1="270.9" y1="325" x2="272.5" y2="325" stroke="#444" stroke-width="0.7"/>
<text x="278.3" y="327.56" font-size="7.2" fill="#222" stroke="#222" stroke-width="0.1">10</text>
<line x1="270.9" y1="347.5" x2="272.5" y2="347.5" stroke="#444" stroke-width="0.7"/>
<text x="278.3" y="350.06" font-size="7.2" fill="#222" stroke="#222" stroke-width="0.1">5</text>
<line x1="270.9" y1="370" x2="272.5" y2="370" stroke="#444" stroke-width="0.7"/>
<text x="278.3" y="372.56" font-size="7.2" fill="#222" stroke="#222" stroke-width="0.1">1</text>
<g transform="translate(298.6 336.2) rotate(-90)"><text x="0" y="2.9" font-size="8.2" text-anchor="middle" textLength="57" lengthAdjust="spacingAndGlyphs" fill="#222" stroke="#222" stroke-width="0.3">×10<tspan font-size="5.2" dy="-3">3</tspan><tspan dy="3"> p/sec/cm</tspan><tspan font-size="5.2" dy="-3">2</tspan><tspan dy="3">/sr</tspan></text></g>
<line x1="350.6" y1="274.5" x2="350.6" y2="372.3" stroke="#333" stroke-width="1.2"/>
<line x1="350.1" y1="372.3" x2="456.5" y2="372.3" stroke="#222" stroke-width="1.2"/>
<line x1="347.8" y1="372.3" x2="350.6" y2="372.3" stroke="#333" stroke-width="0.9"/>
<text x="344.4" y="375.03" font-size="7.7" text-anchor="end" fill="#222" stroke="#222" stroke-width="0.1">0</text>
<line x1="347.8" y1="340.9" x2="350.6" y2="340.9" stroke="#333" stroke-width="0.9"/>
<text x="344.4" y="343.63" font-size="7.7" text-anchor="end" fill="#222" stroke="#222" stroke-width="0.1">10</text>
<line x1="347.8" y1="309.5" x2="350.6" y2="309.5" stroke="#333" stroke-width="0.9"/>
<text x="344.4" y="312.23" font-size="7.7" text-anchor="end" fill="#222" stroke="#222" stroke-width="0.1">20</text>
<line x1="347.8" y1="278.1" x2="350.6" y2="278.1" stroke="#333" stroke-width="0.9"/>
<text x="344.4" y="280.83" font-size="7.7" text-anchor="end" fill="#222" stroke="#222" stroke-width="0.1">30</text>
<line x1="401.7" y1="372.3" x2="401.7" y2="375" stroke="#333" stroke-width="1"/>
<line x1="453.6" y1="372.3" x2="453.6" y2="375" stroke="#333" stroke-width="1"/>
<g transform="translate(327.5 324.4) rotate(-90)"><text x="0" y="2.9" font-size="8.2" text-anchor="middle" textLength="103.5" lengthAdjust="spacingAndGlyphs" fill="#222" stroke="#222" stroke-width="0.32">Luciferase activity (×10<tspan font-size="5.2" dy="-3">6</tspan><tspan dy="3"> photons/s)</tspan></text></g>
<rect x="357" y="347.49" width="8" height="24.81" fill="#10bf5a"/>
<line x1="361" y1="347.49" x2="361" y2="326.14" stroke="#555" stroke-width="0.9"/>
<line x1="359.5" y1="326.14" x2="362.5" y2="326.14" stroke="#555" stroke-width="0.9"/>
<rect x="364.5" y="360.05" width="8" height="12.25" fill="#0a6699"/>
<line x1="368.5" y1="360.05" x2="368.5" y2="350.63" stroke="#555" stroke-width="0.9"/>
<line x1="367" y1="350.63" x2="370" y2="350.63" stroke="#555" stroke-width="0.9"/>
<rect x="380.7" y="359.43" width="8" height="12.87" fill="#7a3585"/>
<line x1="384.7" y1="359.43" x2="384.7" y2="353.15" stroke="#555" stroke-width="0.9"/>
<line x1="383.2" y1="353.15" x2="386.2" y2="353.15" stroke="#555" stroke-width="0.9"/>
<rect x="388.3" y="356.91" width="8" height="15.39" fill="#f6063b"/>
<line x1="392.3" y1="356.91" x2="392.3" y2="348.12" stroke="#555" stroke-width="0.9"/>
<line x1="390.8" y1="348.12" x2="393.8" y2="348.12" stroke="#555" stroke-width="0.9"/>
<rect x="408.1" y="327.08" width="8" height="45.22" fill="#10bf5a"/>
<line x1="412.1" y1="327.08" x2="412.1" y2="297.57" stroke="#555" stroke-width="0.9"/>
<line x1="410.6" y1="297.57" x2="413.6" y2="297.57" stroke="#555" stroke-width="0.9"/>
<rect x="416.1" y="357.54" width="8" height="14.76" fill="#0a6699"/>
<line x1="420.1" y1="357.54" x2="420.1" y2="351.58" stroke="#555" stroke-width="0.9"/>
<line x1="418.6" y1="351.58" x2="421.6" y2="351.58" stroke="#555" stroke-width="0.9"/>
<rect x="432" y="335.25" width="8" height="37.05" fill="#7a3585"/>
<line x1="436" y1="335.25" x2="436" y2="330.54" stroke="#555" stroke-width="0.9"/>
<line x1="434.5" y1="330.54" x2="437.5" y2="330.54" stroke="#555" stroke-width="0.9"/>
<rect x="439.9" y="319.86" width="8" height="52.44" fill="#f6063b"/>
<line x1="443.9" y1="319.86" x2="443.9" y2="300.71" stroke="#555" stroke-width="0.9"/>
<line x1="442.4" y1="300.71" x2="445.4" y2="300.71" stroke="#555" stroke-width="0.9"/>
<text x="376.3" y="382.39" font-size="7.3" text-anchor="middle" fill="#222" stroke="#222" stroke-width="0.1">Day1</text>
<text x="427.9" y="382.89" font-size="7.3" text-anchor="middle" fill="#222" stroke="#222" stroke-width="0.1">Day29</text>
<path d="M411.8 290 V288.2 H420.5 V290" fill="none" stroke="#1a1a1a" stroke-width="1"/>
<text x="416.1" y="287.08" font-size="8.5" text-anchor="middle" font-weight="bold" fill="#222" stroke="#222" stroke-width="0.2">*</text>
<rect x="456.5" y="286.3" width="5.2" height="5.4" fill="#10bf5a"/>
<text x="464.4" y="291.66" font-size="7.5" fill="#222" stroke="#222" stroke-width="0.1">Mock+PBS</text>
<rect x="456.5" y="297" width="5.2" height="5.4" fill="#0a6699"/>
<text x="464.4" y="302.36" font-size="7.5" fill="#222" stroke="#222" stroke-width="0.1">Mock+BTZ</text>
<rect x="456.5" y="307.7" width="5.2" height="5.4" fill="#7a3585"/>
<text x="464.4" y="313.06" font-size="7.5" fill="#222" stroke="#222" stroke-width="0.1">CD44v9+PBS</text>
<rect x="456.5" y="318.4" width="5.2" height="5.4" fill="#f6063b"/>
<text x="464.4" y="323.76" font-size="7.5" fill="#222" stroke="#222" stroke-width="0.1">CD44v9+BTZ</text>
<rect x="1.2" y="410.2" width="54.6" height="9.2" fill="#e8eef2"/>
<rect x="58" y="410.2" width="55.2" height="9.2" fill="#edf2f5"/>
<rect x="114.8" y="410.2" width="54.4" height="9.2" fill="#edf2f5"/>
<rect x="170.8" y="410.2" width="54.7" height="9.2" fill="#edf2f5"/>
<text x="85.6" y="417.74" font-size="8" text-anchor="middle" fill="#222">BCJ 2017</text>
<text x="142" y="417.74" font-size="8" text-anchor="middle" fill="#222">MM.1S</text>
<text x="198.15" y="417.74" font-size="8" text-anchor="middle" fill="#222">KMS12-BM</text>
<rect x="1.2" y="420.2" width="54.6" height="8.05" fill="#e8eef2"/>
<rect x="58" y="420.2" width="55.2" height="8.05" fill="#0a5b92"/>
<rect x="114.8" y="420.2" width="54.4" height="8.05" fill="#fbd5da"/>
<rect x="170.8" y="420.2" width="54.7" height="8.05" fill="#fde9ec"/>
<text x="4.8" y="426.36" font-size="8" font-style="italic" fill="#222">SLC1A4</text>
<text x="109.8" y="426.36" font-size="8" text-anchor="end" fill="#eef6fb">0.371</text>
<text x="166.6" y="426.36" font-size="8" text-anchor="end" fill="#222">1.12</text>
<text x="222.9" y="426.36" font-size="8" text-anchor="end" fill="#222">1.06</text>
<rect x="1.2" y="429.13" width="54.6" height="8.05" fill="#e8eef2"/>
<rect x="58" y="429.13" width="55.2" height="8.05" fill="#208bbd"/>
<rect x="114.8" y="429.13" width="54.4" height="8.05" fill="#77a4c3"/>
<rect x="170.8" y="429.13" width="54.7" height="8.05" fill="#e8eef2"/>
<text x="4.8" y="435.29" font-size="8" font-style="italic" fill="#222">GLA</text>
<text x="109.8" y="435.29" font-size="8" text-anchor="end" fill="#eef6fb">0.482</text>
<text x="166.6" y="435.29" font-size="8" text-anchor="end" fill="#222">0.847</text>
<text x="222.9" y="435.29" font-size="8" text-anchor="end" fill="#222">0.974</text>
<rect x="1.2" y="438.06" width="54.6" height="8.05" fill="#e8eef2"/>
<rect x="58" y="438.06" width="55.2" height="8.05" fill="#0a5b92"/>
<rect x="114.8" y="438.06" width="54.4" height="8.05" fill="#e8eef2"/>
<rect x="170.8" y="438.06" width="54.7" height="8.05" fill="#f9b3bc"/>
<text x="4.8" y="444.22" font-size="8" font-style="italic" fill="#222">AKNA</text>
<text x="109.8" y="444.22" font-size="8" text-anchor="end" fill="#eef6fb">0.247</text>
<text x="166.6" y="444.22" font-size="8" text-anchor="end" fill="#222">1</text>
<text x="222.9" y="444.22" font-size="8" text-anchor="end" fill="#222">1.22</text>
<rect x="1.2" y="446.99" width="54.6" height="8.05" fill="#e8eef2"/>
<rect x="58" y="446.99" width="55.2" height="8.05" fill="#0a5b92"/>
<rect x="114.8" y="446.99" width="54.4" height="8.05" fill="#e8eef2"/>
<rect x="170.8" y="446.99" width="54.7" height="8.05" fill="#bed3e1"/>
<text x="4.8" y="453.15" font-size="8" font-style="italic" fill="#222">ARHGAP27</text>
<text x="109.8" y="453.15" font-size="8" text-anchor="end" fill="#eef6fb">0.278</text>
<text x="166.6" y="453.15" font-size="8" text-anchor="end" fill="#222">0.98</text>
<text x="222.9" y="453.15" font-size="8" text-anchor="end" fill="#222">0.912</text>
<rect x="1.2" y="455.92" width="54.6" height="8.05" fill="#e8eef2"/>
<rect x="58" y="455.92" width="55.2" height="8.05" fill="#0a5b92"/>
<rect x="114.8" y="455.92" width="54.4" height="8.05" fill="#bbd1e0"/>
<rect x="170.8" y="455.92" width="54.7" height="8.05" fill="#c3d6e3"/>
<text x="4.8" y="462.08" font-size="8" font-style="italic" fill="#222">LY96</text>
<text x="109.8" y="462.08" font-size="8" text-anchor="end" fill="#eef6fb">0.263</text>
<text x="166.6" y="462.08" font-size="8" text-anchor="end" fill="#222">0.909</text>
<text x="222.9" y="462.08" font-size="8" text-anchor="end" fill="#222">0.918</text>
<rect x="1.2" y="464.85" width="54.6" height="8.05" fill="#e8eef2"/>
<rect x="58" y="464.85" width="55.2" height="8.05" fill="#208bbd"/>
<rect x="114.8" y="464.85" width="54.4" height="8.05" fill="#cbdce7"/>
<rect x="170.8" y="464.85" width="54.7" height="8.05" fill="#c6d8e5"/>
<text x="4.8" y="471.01" font-size="8" font-style="italic" fill="#222">MSL3</text>
<text x="109.8" y="471.01" font-size="8" text-anchor="end" fill="#eef6fb">0.447</text>
<text x="166.6" y="471.01" font-size="8" text-anchor="end" fill="#222">0.928</text>
<text x="222.9" y="471.01" font-size="8" text-anchor="end" fill="#222">0.922</text>
<rect x="1.2" y="473.78" width="54.6" height="8.05" fill="#e8eef2"/>
<rect x="58" y="473.78" width="55.2" height="8.05" fill="#0a5b92"/>
<rect x="114.8" y="473.78" width="54.4" height="8.05" fill="#e8eef2"/>
<rect x="170.8" y="473.78" width="54.7" height="8.05" fill="#dde7ef"/>
<text x="4.8" y="479.94" font-size="8" font-style="italic" fill="#222">SQRDL</text>
<text x="109.8" y="479.94" font-size="8" text-anchor="end" fill="#eef6fb">0.256</text>
<text x="166.6" y="479.94" font-size="8" text-anchor="end" fill="#222">0.975</text>
<text x="222.9" y="479.94" font-size="8" text-anchor="end" fill="#222">0.953</text>
<rect x="1.2" y="482.71" width="54.6" height="8.05" fill="#e8eef2"/>
<rect x="58" y="482.71" width="55.2" height="8.05" fill="#208bbd"/>
<rect x="114.8" y="482.71" width="54.4" height="8.05" fill="#e8eef2"/>
<rect x="170.8" y="482.71" width="54.7" height="8.05" fill="#e8eef2"/>
<text x="4.8" y="488.87" font-size="8" font-style="italic" fill="#222">NCAPH2</text>
<text x="109.8" y="488.87" font-size="8" text-anchor="end" fill="#eef6fb">0.47</text>
<text x="166.6" y="488.87" font-size="8" text-anchor="end" fill="#222">1</text>
<text x="222.9" y="488.87" font-size="8" text-anchor="end" fill="#222">1.001</text>
<rect x="1.2" y="491.64" width="54.6" height="8.05" fill="#e8eef2"/>
<rect x="58" y="491.64" width="55.2" height="8.05" fill="#208bbd"/>
<rect x="114.8" y="491.64" width="54.4" height="8.05" fill="#fcdfe3"/>
<rect x="170.8" y="491.64" width="54.7" height="8.05" fill="#e8eef2"/>
<text x="4.8" y="497.8" font-size="8" font-style="italic" fill="#222">MRI1</text>
<text x="109.8" y="497.8" font-size="8" text-anchor="end" fill="#eef6fb">0.408</text>
<text x="166.6" y="497.8" font-size="8" text-anchor="end" fill="#222">1.09</text>
<text x="222.9" y="497.8" font-size="8" text-anchor="end" fill="#222">0.992</text>
<rect x="1.2" y="500.57" width="54.6" height="8.05" fill="#e8eef2"/>
<rect x="58" y="500.57" width="55.2" height="8.05" fill="#208bbd"/>
<rect x="114.8" y="500.57" width="54.4" height="8.05" fill="#dbe6ee"/>
<rect x="170.8" y="500.57" width="54.7" height="8.05" fill="#cfdee9"/>
<text x="4.8" y="506.73" font-size="8" font-style="italic" fill="#222">RAB8A</text>
<text x="109.8" y="506.73" font-size="8" text-anchor="end" fill="#eef6fb">0.477</text>
<text x="166.6" y="506.73" font-size="8" text-anchor="end" fill="#222">0.95</text>
<text x="222.9" y="506.73" font-size="8" text-anchor="end" fill="#222">0.933</text>
<rect x="1.2" y="509.5" width="54.6" height="8.05" fill="#e8eef2"/>
<rect x="58" y="509.5" width="55.2" height="8.05" fill="#208bbd"/>
<rect x="114.8" y="509.5" width="54.4" height="8.05" fill="#86aeca"/>
<rect x="170.8" y="509.5" width="54.7" height="8.05" fill="#fcdfe3"/>
<text x="4.8" y="515.66" font-size="8" font-style="italic" fill="#222">ABHD2</text>
<text x="109.8" y="515.66" font-size="8" text-anchor="end" fill="#eef6fb">0.404</text>
<text x="166.6" y="515.66" font-size="8" text-anchor="end" fill="#222">0.86</text>
<text x="222.9" y="515.66" font-size="8" text-anchor="end" fill="#222">1.09</text>
<rect x="1.2" y="518.43" width="54.6" height="8.05" fill="#e8eef2"/>
<rect x="58" y="518.43" width="55.2" height="8.05" fill="#0a5b92"/>
<rect x="114.8" y="518.43" width="54.4" height="8.05" fill="#e8eef2"/>
<rect x="170.8" y="518.43" width="54.7" height="8.05" fill="#74a2c2"/>
<text x="4.8" y="524.59" font-size="8" font-style="italic" fill="#222">LMF2</text>
<text x="109.8" y="524.59" font-size="8" text-anchor="end" fill="#eef6fb">0.391</text>
<text x="166.6" y="524.59" font-size="8" text-anchor="end" fill="#222">1.1</text>
<text x="222.9" y="524.59" font-size="8" text-anchor="end" fill="#222">0.838</text>
<rect x="1.2" y="527.36" width="54.6" height="8.05" fill="#e8eef2"/>
<rect x="58" y="527.36" width="55.2" height="8.05" fill="#208bbd"/>
<rect x="114.8" y="527.36" width="54.4" height="8.05" fill="#e8eef2"/>
<rect x="170.8" y="527.36" width="54.7" height="8.05" fill="#fce6e9"/>
<text x="4.8" y="533.52" font-size="8" font-style="italic" fill="#222">TUBA4A</text>
<text x="109.8" y="533.52" font-size="8" text-anchor="end" fill="#eef6fb">0.457</text>
<text x="166.6" y="533.52" font-size="8" text-anchor="end" fill="#222">1</text>
<text x="222.9" y="533.52" font-size="8" text-anchor="end" fill="#222">1.07</text>
<rect x="1.2" y="536.29" width="54.6" height="8.05" fill="#e8eef2"/>
<rect x="58" y="536.29" width="55.2" height="8.05" fill="#208bbd"/>
<rect x="114.8" y="536.29" width="54.4" height="8.05" fill="#e1eaf0"/>
<rect x="170.8" y="536.29" width="54.7" height="8.05" fill="#e8eef2"/>
<text x="4.8" y="542.45" font-size="8" fill="#222">C2ORF69</text>
<text x="109.8" y="542.45" font-size="8" text-anchor="end" fill="#eef6fb">0.491</text>
<text x="166.6" y="542.45" font-size="8" text-anchor="end" fill="#222">0.96</text>
<text x="222.9" y="542.45" font-size="8" text-anchor="end" fill="#222">1.03</text>
<rect x="1.2" y="545.22" width="54.6" height="8.05" fill="#e8eef2"/>
<rect x="58" y="545.22" width="55.2" height="8.05" fill="#0a5b92"/>
<rect x="114.8" y="545.22" width="54.4" height="8.05" fill="#fdedef"/>
<rect x="170.8" y="545.22" width="54.7" height="8.05" fill="#e8eef2"/>
<text x="4.8" y="551.38" font-size="8" font-style="italic" fill="#222">PTPN18</text>
<text x="109.8" y="551.38" font-size="8" text-anchor="end" fill="#eef6fb">0.38</text>
<text x="166.6" y="551.38" font-size="8" text-anchor="end" fill="#222">1.05</text>
<text x="222.9" y="551.38" font-size="8" text-anchor="end" fill="#222">1.03</text>
<rect x="1.2" y="554.15" width="54.6" height="8.05" fill="#e8eef2"/>
<rect x="58" y="554.15" width="55.2" height="8.05" fill="#0a5b92"/>
<rect x="114.8" y="554.15" width="54.4" height="8.05" fill="#e8eef2"/>
<rect x="170.8" y="554.15" width="54.7" height="8.05" fill="#e8eef2"/>
<text x="4.8" y="560.31" font-size="8" font-style="italic" fill="#222">PRKD2</text>
<text x="109.8" y="560.31" font-size="8" text-anchor="end" fill="#eef6fb">0.286</text>
<text x="166.6" y="560.31" font-size="8" text-anchor="end" fill="#222">1.04</text>
<text x="222.9" y="560.31" font-size="8" text-anchor="end" fill="#222">0.995</text>
<rect x="1.2" y="563.08" width="54.6" height="8.05" fill="#e8eef2"/>
<rect x="58" y="563.08" width="55.2" height="8.05" fill="#208bbd"/>
<rect x="114.8" y="563.08" width="54.4" height="8.05" fill="#e8eef2"/>
<rect x="170.8" y="563.08" width="54.7" height="8.05" fill="#cfdee8"/>
<text x="4.8" y="569.24" font-size="8" font-style="italic" fill="#222">KHK</text>
<text x="109.8" y="569.24" font-size="8" text-anchor="end" fill="#eef6fb">0.403</text>
<text x="166.6" y="569.24" font-size="8" text-anchor="end" fill="#222">0.998</text>
<text x="222.9" y="569.24" font-size="8" text-anchor="end" fill="#222">0.932</text>
<rect x="1.2" y="572.01" width="54.6" height="8.05" fill="#e8eef2"/>
<rect x="58" y="572.01" width="55.2" height="8.05" fill="#208bbd"/>
<rect x="114.8" y="572.01" width="54.4" height="8.05" fill="#e8eef2"/>
<rect x="170.8" y="572.01" width="54.7" height="8.05" fill="#b5cdde"/>
<text x="4.8" y="578.17" font-size="8" font-style="italic" fill="#222">CERK</text>
<text x="109.8" y="578.17" font-size="8" text-anchor="end" fill="#eef6fb">0.403</text>
<text x="166.6" y="578.17" font-size="8" text-anchor="end" fill="#222">0.983</text>
<text x="222.9" y="578.17" font-size="8" text-anchor="end" fill="#222">0.903</text>
<rect x="1.2" y="580.94" width="54.6" height="8.05" fill="#e8eef2"/>
<rect x="58" y="580.94" width="55.2" height="8.05" fill="#0a5b92"/>
<rect x="114.8" y="580.94" width="54.4" height="8.05" fill="#e8eef2"/>
<rect x="170.8" y="580.94" width="54.7" height="8.05" fill="#e8eef2"/>
<text x="4.8" y="587.11" font-size="8" font-style="italic" fill="#222">GPSM3</text>
<text x="109.8" y="587.11" font-size="8" text-anchor="end" fill="#eef6fb">0.188</text>
<text x="166.6" y="587.11" font-size="8" text-anchor="end" fill="#222">0.986</text>
<text x="222.9" y="587.11" font-size="8" text-anchor="end" fill="#222">0.985</text>
<rect x="1.2" y="589.87" width="54.6" height="8.05" fill="#e8eef2"/>
<rect x="58" y="589.87" width="55.2" height="8.05" fill="#208bbd"/>
<rect x="114.8" y="589.87" width="54.4" height="8.05" fill="#e8eef2"/>
<rect x="170.8" y="589.87" width="54.7" height="8.05" fill="#e1eaf0"/>
<text x="4.8" y="596.03" font-size="8" font-style="italic" fill="#222">WFS1</text>
<text x="109.8" y="596.03" font-size="8" text-anchor="end" fill="#eef6fb">0.417</text>
<text x="166.6" y="596.03" font-size="8" text-anchor="end" fill="#222">0.989</text>
<text x="222.9" y="596.03" font-size="8" text-anchor="end" fill="#222">0.96</text>
<rect x="1.2" y="598.8" width="54.6" height="8.05" fill="#e8eef2"/>
<rect x="58" y="598.8" width="55.2" height="8.05" fill="#208bbd"/>
<rect x="114.8" y="598.8" width="54.4" height="8.05" fill="#fdebee"/>
<rect x="170.8" y="598.8" width="54.7" height="8.05" fill="#e8eef2"/>
<text x="4.8" y="604.96" font-size="8" font-style="italic" fill="#222">MYH9</text>
<text x="109.8" y="604.96" font-size="8" text-anchor="end" fill="#eef6fb">0.497</text>
<text x="166.6" y="604.96" font-size="8" text-anchor="end" fill="#222">1.055</text>
<text x="222.9" y="604.96" font-size="8" text-anchor="end" fill="#222">1.025</text>
<rect x="1.2" y="607.73" width="54.6" height="8.05" fill="#e8eef2"/>
<rect x="58" y="607.73" width="55.2" height="8.05" fill="#0a5b92"/>
<rect x="114.8" y="607.73" width="54.4" height="8.05" fill="#e8eef2"/>
<rect x="170.8" y="607.73" width="54.7" height="8.05" fill="#e8eef2"/>
<text x="4.8" y="613.89" font-size="8" font-style="italic" fill="#222">CYTIP</text>
<text x="109.8" y="613.89" font-size="8" text-anchor="end" fill="#eef6fb">0.35</text>
<text x="166.6" y="613.89" font-size="8" text-anchor="end" fill="#222">1.02</text>
<text x="222.9" y="613.89" font-size="8" text-anchor="end" fill="#222">0.994</text>
<rect x="1.2" y="616.66" width="54.6" height="8.05" fill="#e8eef2"/>
<rect x="58" y="616.66" width="55.2" height="8.05" fill="#208bbd"/>
<rect x="114.8" y="616.66" width="54.4" height="8.05" fill="#fce6e9"/>
<rect x="170.8" y="616.66" width="54.7" height="8.05" fill="#c1d5e3"/>
<text x="4.8" y="622.82" font-size="8" font-style="italic" fill="#222">SVIP</text>
<text x="109.8" y="622.82" font-size="8" text-anchor="end" fill="#eef6fb">0.466</text>
<text x="166.6" y="622.82" font-size="8" text-anchor="end" fill="#222">1.07</text>
<text x="222.9" y="622.82" font-size="8" text-anchor="end" fill="#222">0.916</text>
<rect x="1.2" y="625.59" width="54.6" height="8.05" fill="#e8eef2"/>
<rect x="58" y="625.59" width="55.2" height="8.05" fill="#0a5b92"/>
<rect x="114.8" y="625.59" width="54.4" height="8.05" fill="#cadbe6"/>
<rect x="170.8" y="625.59" width="54.7" height="8.05" fill="#e8eef2"/>
<text x="4.8" y="631.75" font-size="8" font-style="italic" fill="#222">ARSA</text>
<text x="109.8" y="631.75" font-size="8" text-anchor="end" fill="#eef6fb">0.303</text>
<text x="166.6" y="631.75" font-size="8" text-anchor="end" fill="#222">0.926</text>
<text x="222.9" y="631.75" font-size="8" text-anchor="end" fill="#222">1.03</text>
<rect x="1.2" y="634.52" width="54.6" height="8.05" fill="#e8eef2"/>
<rect x="58" y="634.52" width="55.2" height="8.05" fill="#208bbd"/>
<rect x="114.8" y="634.52" width="54.4" height="8.05" fill="#e8eef2"/>
<rect x="170.8" y="634.52" width="54.7" height="8.05" fill="#fbd0d6"/>
<text x="4.8" y="640.68" font-size="8" font-style="italic" fill="#222">SFMBT2</text>
<text x="109.8" y="640.68" font-size="8" text-anchor="end" fill="#eef6fb">0.474</text>
<text x="166.6" y="640.68" font-size="8" text-anchor="end" fill="#222">0.98</text>
<text x="222.9" y="640.68" font-size="8" text-anchor="end" fill="#222">1.135</text>
<rect x="268.8" y="410.2" width="55" height="9" fill="#e8eef2"/>
<rect x="325" y="410.2" width="54.2" height="9" fill="#edf2f5"/>
<rect x="381" y="410.2" width="54.8" height="9" fill="#edf2f5"/>
<rect x="436.9" y="410.2" width="55.7" height="9" fill="#edf2f5"/>
<text x="352.1" y="417.74" font-size="8" text-anchor="middle" fill="#222">BCJ 2017</text>
<text x="408.4" y="417.74" font-size="8" text-anchor="middle" fill="#222">MM.1S</text>
<text x="464.75" y="417.74" font-size="8" text-anchor="middle" fill="#222">KMS12-BM</text>
<rect x="268.8" y="420" width="55" height="8.2" fill="#e8eef2"/>
<rect x="325" y="420" width="54.2" height="8.2" fill="#e8123c"/>
<rect x="381" y="420" width="54.8" height="8.2" fill="#e8eef2"/>
<rect x="436.9" y="420" width="55.7" height="8.2" fill="#96b8d0"/>
<text x="272.4" y="426.24" font-size="8" font-style="italic" fill="#222">NEK3</text>
<text x="375.8" y="426.24" font-size="8" text-anchor="end" fill="#fdeef0">2.544</text>
<text x="433.2" y="426.24" font-size="8" text-anchor="end" fill="#222">1.03</text>
<text x="490" y="426.24" font-size="8" text-anchor="end" fill="#222">0.885</text>
<rect x="268.8" y="429.13" width="55" height="8.2" fill="#e8eef2"/>
<rect x="325" y="429.13" width="54.2" height="8.2" fill="#f2637a"/>
<rect x="381" y="429.13" width="54.8" height="8.2" fill="#f3929e"/>
<rect x="436.9" y="429.13" width="55.7" height="8.2" fill="#facdd4"/>
<text x="272.4" y="435.37" font-size="8" font-style="italic" fill="#222">DLST</text>
<text x="375.8" y="435.37" font-size="8" text-anchor="end" fill="#fdeef0">2.001</text>
<text x="433.2" y="435.37" font-size="8" text-anchor="end" fill="#222">1.25</text>
<text x="490" y="435.37" font-size="8" text-anchor="end" fill="#222">1.08</text>
<rect x="268.8" y="438.26" width="55" height="8.2" fill="#e8eef2"/>
<rect x="325" y="438.26" width="54.2" height="8.2" fill="#f2637a"/>
<rect x="381" y="438.26" width="54.8" height="8.2" fill="#e8eef2"/>
<rect x="436.9" y="438.26" width="55.7" height="8.2" fill="#e8eef2"/>
<text x="272.4" y="444.5" font-size="8" font-style="italic" fill="#222">TARS2</text>
<text x="375.8" y="444.5" font-size="8" text-anchor="end" fill="#fdeef0">2.083</text>
<text x="433.2" y="444.5" font-size="8" text-anchor="end" fill="#222">1</text>
<text x="490" y="444.5" font-size="8" text-anchor="end" fill="#222">0.978</text>
<rect x="268.8" y="447.39" width="55" height="8.2" fill="#e8eef2"/>
<rect x="325" y="447.39" width="54.2" height="8.2" fill="#f2637a"/>
<rect x="381" y="447.39" width="54.8" height="8.2" fill="#fbd7dc"/>
<rect x="436.9" y="447.39" width="55.7" height="8.2" fill="#fbd5db"/>
<text x="272.4" y="453.63" font-size="8" font-style="italic" fill="#222">C6ORF48</text>
<text x="375.8" y="453.63" font-size="8" text-anchor="end" fill="#fdeef0">2.462</text>
<text x="433.2" y="453.63" font-size="8" text-anchor="end" fill="#222">1.06</text>
<text x="490" y="453.63" font-size="8" text-anchor="end" fill="#222">1.063</text>
<rect x="268.8" y="456.52" width="55" height="8.2" fill="#e8eef2"/>
<rect x="325" y="456.52" width="54.2" height="8.2" fill="#f2637a"/>
<rect x="381" y="456.52" width="54.8" height="8.2" fill="#f499a4"/>
<rect x="436.9" y="456.52" width="55.7" height="8.2" fill="#facdd4"/>
<text x="272.4" y="462.76" font-size="8" font-style="italic" fill="#222">HSPA1B</text>
<text x="375.8" y="462.76" font-size="8" text-anchor="end" fill="#fdeef0">2.335</text>
<text x="433.2" y="462.76" font-size="8" text-anchor="end" fill="#222">1.22</text>
<text x="490" y="462.76" font-size="8" text-anchor="end" fill="#222">1.08</text>
<rect x="268.8" y="465.65" width="55" height="8.2" fill="#e8eef2"/>
<rect x="325" y="465.65" width="54.2" height="8.2" fill="#f2637a"/>
<rect x="381" y="465.65" width="54.8" height="8.2" fill="#f9c1c8"/>
<rect x="436.9" y="465.65" width="55.7" height="8.2" fill="#fcdde1"/>
<text x="272.4" y="471.89" font-size="8" font-style="italic" fill="#222">TFEB</text>
<text x="375.8" y="471.89" font-size="8" text-anchor="end" fill="#fdeef0">2.302</text>
<text x="433.2" y="471.89" font-size="8" text-anchor="end" fill="#222">1.11</text>
<text x="490" y="471.89" font-size="8" text-anchor="end" fill="#222">1.05</text>
<rect x="268.8" y="474.78" width="55" height="8.2" fill="#e8eef2"/>
<rect x="325" y="474.78" width="54.2" height="8.2" fill="#f2637a"/>
<rect x="381" y="474.78" width="54.8" height="8.2" fill="#f8bdc4"/>
<rect x="436.9" y="474.78" width="55.7" height="8.2" fill="#f6aeb7"/>
<text x="272.4" y="481.02" font-size="8" font-style="italic" fill="#222">RNF170</text>
<text x="375.8" y="481.02" font-size="8" text-anchor="end" fill="#fdeef0">2.34</text>
<text x="433.2" y="481.02" font-size="8" text-anchor="end" fill="#222">1.12</text>
<text x="490" y="481.02" font-size="8" text-anchor="end" fill="#222">1.16</text>
<rect x="268.8" y="483.91" width="55" height="8.2" fill="#e8eef2"/>
<rect x="325" y="483.91" width="54.2" height="8.2" fill="#f2637a"/>
<rect x="381" y="483.91" width="54.8" height="8.2" fill="#f04d66"/>
<rect x="436.9" y="483.91" width="55.7" height="8.2" fill="#f5a3ad"/>
<text x="272.4" y="490.15" font-size="8" font-style="italic" fill="#222">SOX12</text>
<text x="375.8" y="490.15" font-size="8" text-anchor="end" fill="#fdeef0">2.281</text>
<text x="433.2" y="490.15" font-size="8" text-anchor="end" fill="#fff0f2">2.12</text>
<text x="490" y="490.15" font-size="8" text-anchor="end" fill="#222">1.19</text>
<rect x="268.8" y="493.04" width="55" height="8.2" fill="#e8eef2"/>
<rect x="325" y="493.04" width="54.2" height="8.2" fill="#e8123c"/>
<rect x="381" y="493.04" width="54.8" height="8.2" fill="#e8eef2"/>
<rect x="436.9" y="493.04" width="55.7" height="8.2" fill="#fcdde1"/>
<text x="272.4" y="499.28" font-size="8" font-style="italic" fill="#222">PAQR6</text>
<text x="375.8" y="499.28" font-size="8" text-anchor="end" fill="#fdeef0">3.645</text>
<text x="433.2" y="499.28" font-size="8" text-anchor="end" fill="#222">1.02</text>
<text x="490" y="499.28" font-size="8" text-anchor="end" fill="#222">1.05</text>
<rect x="268.8" y="502.17" width="55" height="8.2" fill="#e8eef2"/>
<rect x="325" y="502.17" width="54.2" height="8.2" fill="#e8123c"/>
<rect x="381" y="502.17" width="54.8" height="8.2" fill="#e8eef2"/>
<rect x="436.9" y="502.17" width="55.7" height="8.2" fill="#fbd2d8"/>
<text x="272.4" y="508.41" font-size="8" font-style="italic" fill="#222">HIST1H2BD</text>
<text x="375.8" y="508.41" font-size="8" text-anchor="end" fill="#fdeef0">4.514</text>
<text x="433.2" y="508.41" font-size="8" text-anchor="end" fill="#222">0.976</text>
<text x="490" y="508.41" font-size="8" text-anchor="end" fill="#222">1.07</text>
<rect x="268.8" y="511.3" width="55" height="8.2" fill="#e8eef2"/>
<rect x="325" y="511.3" width="54.2" height="8.2" fill="#f2637a"/>
<rect x="381" y="511.3" width="54.8" height="8.2" fill="#d2e0ea"/>
<rect x="436.9" y="511.3" width="55.7" height="8.2" fill="#c4d7e4"/>
<text x="272.4" y="517.54" font-size="8" font-style="italic" fill="#222">UBE2K</text>
<text x="375.8" y="517.54" font-size="8" text-anchor="end" fill="#fdeef0">2.048</text>
<text x="433.2" y="517.54" font-size="8" text-anchor="end" fill="#222">0.956</text>
<text x="490" y="517.54" font-size="8" text-anchor="end" fill="#222">0.94</text>
<rect x="268.8" y="520.43" width="55" height="8.2" fill="#e8eef2"/>
<rect x="325" y="520.43" width="54.2" height="8.2" fill="#f2637a"/>
<rect x="381" y="520.43" width="54.8" height="8.2" fill="#e8eef2"/>
<rect x="436.9" y="520.43" width="55.7" height="8.2" fill="#fbd7dc"/>
<text x="272.4" y="526.67" font-size="8" font-style="italic" fill="#222">LYSMD1</text>
<text x="375.8" y="526.67" font-size="8" text-anchor="end" fill="#fdeef0">2.379</text>
<text x="433.2" y="526.67" font-size="8" text-anchor="end" fill="#222">1.02</text>
<text x="490" y="526.67" font-size="8" text-anchor="end" fill="#222">1.06</text>
<rect x="268.8" y="529.56" width="55" height="8.2" fill="#e8eef2"/>
<rect x="325" y="529.56" width="54.2" height="8.2" fill="#f2637a"/>
<rect x="381" y="529.56" width="54.8" height="8.2" fill="#f7b5bd"/>
<rect x="436.9" y="529.56" width="55.7" height="8.2" fill="#e8eef2"/>
<text x="272.4" y="535.8" font-size="8" font-style="italic" fill="#222">MNAT1</text>
<text x="375.8" y="535.8" font-size="8" text-anchor="end" fill="#fdeef0">2.144</text>
<text x="433.2" y="535.8" font-size="8" text-anchor="end" fill="#222">1.14</text>
<text x="490" y="535.8" font-size="8" text-anchor="end" fill="#222">1.02</text>
<rect x="268.8" y="538.69" width="55" height="8.2" fill="#e8eef2"/>
<rect x="325" y="538.69" width="54.2" height="8.2" fill="#f2637a"/>
<rect x="381" y="538.69" width="54.8" height="8.2" fill="#e8eef2"/>
<rect x="436.9" y="538.69" width="55.7" height="8.2" fill="#bad0e0"/>
<text x="272.4" y="544.93" font-size="8" font-style="italic" fill="#222">POLR3GL</text>
<text x="375.8" y="544.93" font-size="8" text-anchor="end" fill="#fdeef0">2.251</text>
<text x="433.2" y="544.93" font-size="8" text-anchor="end" fill="#222">1.03</text>
<text x="490" y="544.93" font-size="8" text-anchor="end" fill="#222">0.928</text>
<line x1="329.5" y1="556.3" x2="329.5" y2="633.3" stroke="#222" stroke-width="1.2"/>
<line x1="329" y1="633.3" x2="456" y2="633.3" stroke="#222" stroke-width="1.2"/>
<line x1="326" y1="561.5" x2="329.5" y2="561.5" stroke="#333" stroke-width="0.9"/>
<text x="322.6" y="564.23" font-size="7.7" text-anchor="end" fill="#222" stroke="#222" stroke-width="0.1">1.25</text>
<line x1="326" y1="597.5" x2="329.5" y2="597.5" stroke="#333" stroke-width="0.9"/>
<text x="322.6" y="600.23" font-size="7.7" text-anchor="end" fill="#222" stroke="#222" stroke-width="0.1">1</text>
<line x1="326" y1="633.5" x2="329.5" y2="633.5" stroke="#333" stroke-width="0.9"/>
<text x="322.6" y="636.23" font-size="7.7" text-anchor="end" fill="#222" stroke="#222" stroke-width="0.1">0.75</text>
<line x1="329.5" y1="633.3" x2="329.5" y2="636.3" stroke="#333" stroke-width="0.9"/>
<text x="329.5" y="645.77" font-size="7.8" text-anchor="middle" fill="#222" stroke="#222" stroke-width="0.1">0</text>
<line x1="370.75" y1="633.3" x2="370.75" y2="636.3" stroke="#333" stroke-width="0.9"/>
<text x="370.75" y="645.77" font-size="7.8" text-anchor="middle" fill="#222" stroke="#222" stroke-width="0.1">1</text>
<line x1="412" y1="633.3" x2="412" y2="636.3" stroke="#333" stroke-width="0.9"/>
<text x="412" y="645.77" font-size="7.8" text-anchor="middle" fill="#222" stroke="#222" stroke-width="0.1">2</text>
<line x1="453.25" y1="633.3" x2="453.25" y2="636.3" stroke="#333" stroke-width="0.9"/>
<text x="453.25" y="645.77" font-size="7.8" text-anchor="middle" fill="#222" stroke="#222" stroke-width="0.1">3</text>
<text x="393.4" y="658.8" font-size="9" text-anchor="middle" textLength="133.8" lengthAdjust="spacingAndGlyphs" fill="#222" stroke="#222" stroke-width="0.33">Fold change in BTZ-resistant cells (BCJ 2017)</text>
<g transform="translate(287.6 594) rotate(-90)">
<text x="0" y="3.12" font-size="8.8" text-anchor="middle" textLength="67.5" lengthAdjust="spacingAndGlyphs" fill="#222" stroke="#222" stroke-width="0.33">Fold change in MM.1S</text>
</g>
<g transform="translate(300 594.5) rotate(-90)">
<text x="0" y="3.12" font-size="8.8" text-anchor="middle" textLength="68.5" lengthAdjust="spacingAndGlyphs" fill="#222" stroke="#222" stroke-width="0.33">and KMS12-BM clusters</text>
</g>
<text x="368.6" y="570" font-size="7.6" font-style="italic" fill="#222" stroke="#222" stroke-width="0.1">P</text>
<text x="373.6" y="570" font-size="7.6" textLength="20.6" lengthAdjust="spacingAndGlyphs" fill="#222" stroke="#222" stroke-width="0.1">=0.02</text>
<path d="M344.8 577.92l2.3 2.3l-2.3 2.3l-2.3 -2.3z" fill="#11679c"/>
<path d="M344.8 586.56l2.3 2.3l-2.3 2.3l-2.3 -2.3z" fill="#11679c"/>
<path d="M349.38 617.23l2.3 2.3l-2.3 2.3l-2.3 -2.3z" fill="#11679c"/>
<path d="M349.38 598.94l2.3 2.3l-2.3 2.3l-2.3 -2.3z" fill="#11679c"/>
<path d="M339.69 595.2l2.3 2.3l-2.3 2.3l-2.3 -2.3z" fill="#11679c"/>
<path d="M339.69 563.52l2.3 2.3l-2.3 2.3l-2.3 -2.3z" fill="#11679c"/>
<path d="M340.97 598.08l2.3 2.3l-2.3 2.3l-2.3 -2.3z" fill="#11679c"/>
<path d="M340.97 607.87l2.3 2.3l-2.3 2.3l-2.3 -2.3z" fill="#11679c"/>
<path d="M340.35 608.3l2.3 2.3l-2.3 2.3l-2.3 -2.3z" fill="#11679c"/>
<path d="M340.35 607.01l2.3 2.3l-2.3 2.3l-2.3 -2.3z" fill="#11679c"/>
<path d="M347.94 605.57l2.3 2.3l-2.3 2.3l-2.3 -2.3z" fill="#11679c"/>
<path d="M347.94 606.43l2.3 2.3l-2.3 2.3l-2.3 -2.3z" fill="#11679c"/>
<path d="M340.06 598.8l2.3 2.3l-2.3 2.3l-2.3 -2.3z" fill="#11679c"/>
<path d="M340.06 601.97l2.3 2.3l-2.3 2.3l-2.3 -2.3z" fill="#11679c"/>
<path d="M348.89 595.2l2.3 2.3l-2.3 2.3l-2.3 -2.3z" fill="#11679c"/>
<path d="M348.89 595.06l2.3 2.3l-2.3 2.3l-2.3 -2.3z" fill="#11679c"/>
<path d="M346.33 582.24l2.3 2.3l-2.3 2.3l-2.3 -2.3z" fill="#11679c"/>
<path d="M346.33 596.35l2.3 2.3l-2.3 2.3l-2.3 -2.3z" fill="#11679c"/>
<path d="M349.18 602.4l2.3 2.3l-2.3 2.3l-2.3 -2.3z" fill="#11679c"/>
<path d="M349.18 604.85l2.3 2.3l-2.3 2.3l-2.3 -2.3z" fill="#11679c"/>
<path d="M346.17 615.36l2.3 2.3l-2.3 2.3l-2.3 -2.3z" fill="#11679c"/>
<path d="M346.17 582.24l2.3 2.3l-2.3 2.3l-2.3 -2.3z" fill="#11679c"/>
<path d="M345.63 580.8l2.3 2.3l-2.3 2.3l-2.3 -2.3z" fill="#11679c"/>
<path d="M345.63 618.53l2.3 2.3l-2.3 2.3l-2.3 -2.3z" fill="#11679c"/>
<path d="M348.35 595.2l2.3 2.3l-2.3 2.3l-2.3 -2.3z" fill="#11679c"/>
<path d="M348.35 585.12l2.3 2.3l-2.3 2.3l-2.3 -2.3z" fill="#11679c"/>
<path d="M349.75 600.96l2.3 2.3l-2.3 2.3l-2.3 -2.3z" fill="#11679c"/>
<path d="M349.75 590.88l2.3 2.3l-2.3 2.3l-2.3 -2.3z" fill="#11679c"/>
<path d="M345.18 588l2.3 2.3l-2.3 2.3l-2.3 -2.3z" fill="#11679c"/>
<path d="M345.18 590.88l2.3 2.3l-2.3 2.3l-2.3 -2.3z" fill="#11679c"/>
<path d="M341.3 589.44l2.3 2.3l-2.3 2.3l-2.3 -2.3z" fill="#11679c"/>
<path d="M341.3 595.92l2.3 2.3l-2.3 2.3l-2.3 -2.3z" fill="#11679c"/>
<path d="M346.12 595.49l2.3 2.3l-2.3 2.3l-2.3 -2.3z" fill="#11679c"/>
<path d="M346.12 604.99l2.3 2.3l-2.3 2.3l-2.3 -2.3z" fill="#11679c"/>
<path d="M346.12 597.65l2.3 2.3l-2.3 2.3l-2.3 -2.3z" fill="#11679c"/>
<path d="M346.12 609.17l2.3 2.3l-2.3 2.3l-2.3 -2.3z" fill="#11679c"/>
<path d="M337.25 597.22l2.3 2.3l-2.3 2.3l-2.3 -2.3z" fill="#11679c"/>
<path d="M337.25 597.36l2.3 2.3l-2.3 2.3l-2.3 -2.3z" fill="#11679c"/>
<path d="M346.7 596.78l2.3 2.3l-2.3 2.3l-2.3 -2.3z" fill="#11679c"/>
<path d="M346.7 600.96l2.3 2.3l-2.3 2.3l-2.3 -2.3z" fill="#11679c"/>
<path d="M350 587.28l2.3 2.3l-2.3 2.3l-2.3 -2.3z" fill="#11679c"/>
<path d="M350 591.6l2.3 2.3l-2.3 2.3l-2.3 -2.3z" fill="#11679c"/>
<path d="M343.94 592.32l2.3 2.3l-2.3 2.3l-2.3 -2.3z" fill="#11679c"/>
<path d="M343.94 596.06l2.3 2.3l-2.3 2.3l-2.3 -2.3z" fill="#11679c"/>
<path d="M348.72 585.12l2.3 2.3l-2.3 2.3l-2.3 -2.3z" fill="#11679c"/>
<path d="M348.72 607.3l2.3 2.3l-2.3 2.3l-2.3 -2.3z" fill="#11679c"/>
<path d="M342 605.86l2.3 2.3l-2.3 2.3l-2.3 -2.3z" fill="#11679c"/>
<path d="M342 590.88l2.3 2.3l-2.3 2.3l-2.3 -2.3z" fill="#11679c"/>
<path d="M349.05 598.08l2.3 2.3l-2.3 2.3l-2.3 -2.3z" fill="#11679c"/>
<path d="M349.05 575.76l2.3 2.3l-2.3 2.3l-2.3 -2.3z" fill="#11679c"/>
<path d="M434.44 590.68l2.5 2.5l-2.5 2.5l-2.5 -2.5z" fill="#e8163e"/>
<path d="M434.44 611.56l2.5 2.5l-2.5 2.5l-2.5 -2.5z" fill="#e8163e"/>
<path d="M412.04 559l2.5 2.5l-2.5 2.5l-2.5 -2.5z" fill="#e8163e"/>
<path d="M412.04 583.48l2.5 2.5l-2.5 2.5l-2.5 -2.5z" fill="#e8163e"/>
<path d="M415.42 595l2.5 2.5l-2.5 2.5l-2.5 -2.5z" fill="#e8163e"/>
<path d="M415.42 598.17l2.5 2.5l-2.5 2.5l-2.5 -2.5z" fill="#e8163e"/>
<path d="M431.06 586.36l2.5 2.5l-2.5 2.5l-2.5 -2.5z" fill="#e8163e"/>
<path d="M431.06 585.93l2.5 2.5l-2.5 2.5l-2.5 -2.5z" fill="#e8163e"/>
<path d="M425.82 563.32l2.5 2.5l-2.5 2.5l-2.5 -2.5z" fill="#e8163e"/>
<path d="M425.82 583.48l2.5 2.5l-2.5 2.5l-2.5 -2.5z" fill="#e8163e"/>
<path d="M424.46 579.16l2.5 2.5l-2.5 2.5l-2.5 -2.5z" fill="#e8163e"/>
<path d="M424.46 587.8l2.5 2.5l-2.5 2.5l-2.5 -2.5z" fill="#e8163e"/>
<path d="M426.02 577.72l2.5 2.5l-2.5 2.5l-2.5 -2.5z" fill="#e8163e"/>
<path d="M426.02 571.96l2.5 2.5l-2.5 2.5l-2.5 -2.5z" fill="#e8163e"/>
<path d="M423.59 567.64l2.5 2.5l-2.5 2.5l-2.5 -2.5z" fill="#e8163e"/>
<path d="M413.98 601.34l2.5 2.5l-2.5 2.5l-2.5 -2.5z" fill="#e8163e"/>
<path d="M413.98 603.64l2.5 2.5l-2.5 2.5l-2.5 -2.5z" fill="#e8163e"/>
<path d="M427.63 592.12l2.5 2.5l-2.5 2.5l-2.5 -2.5z" fill="#e8163e"/>
<path d="M427.63 586.36l2.5 2.5l-2.5 2.5l-2.5 -2.5z" fill="#e8163e"/>
<path d="M417.94 574.84l2.5 2.5l-2.5 2.5l-2.5 -2.5z" fill="#e8163e"/>
<path d="M417.94 592.12l2.5 2.5l-2.5 2.5l-2.5 -2.5z" fill="#e8163e"/>
<path d="M422.35 590.68l2.5 2.5l-2.5 2.5l-2.5 -2.5z" fill="#e8163e"/>
<path d="M422.35 605.37l2.5 2.5l-2.5 2.5l-2.5 -2.5z" fill="#e8163e"/>
<line x1="336.5" y1="598.3" x2="453.2" y2="583.5" stroke="#1fb05a" stroke-width="1.4"/>
</svg></body></html>
